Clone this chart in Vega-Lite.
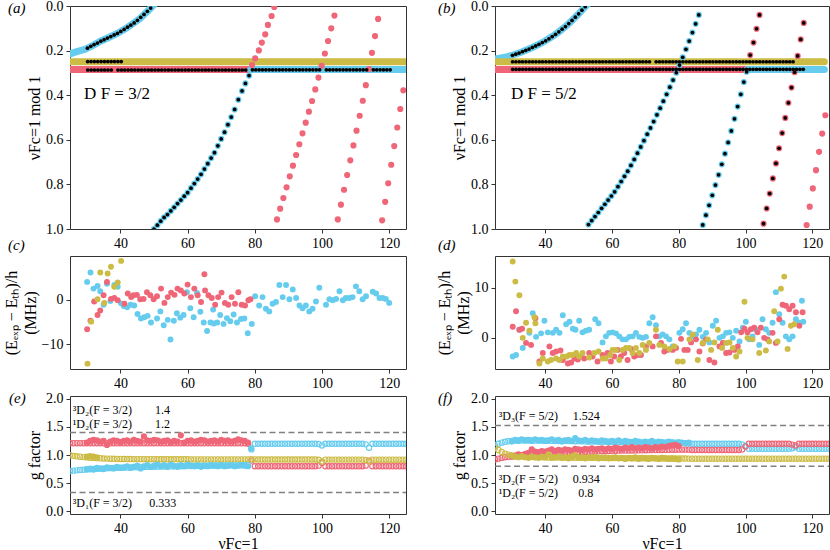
{
"$schema": "https://vega.github.io/schema/vega-lite/v6.json",
"background": "white",
"padding": {"left": 2, "top": -2, "right": 0, "bottom": 0},
"config": {
  "font": "Liberation Serif",
  "view": {"stroke": "#333", "strokeWidth": 1},
  "axis": {"domain": false, "grid": false, "tickColor": "#333", "tickSize": 4, "tickWidth": 1, "labelFont": "Liberation Serif", "labelFontSize": 14, "labelColor": "black", "labelPadding": 3, "titleFont": "Liberation Serif", "titleFontSize": 16, "titleFontWeight": "normal", "titleColor": "black", "titlePadding": 3, "labelOverlap": false, "labelFlush": false},
  "title": {"font": "Liberation Serif", "fontSize": 15, "fontStyle": "italic", "fontWeight": "normal", "anchor": "start", "frame": "group", "baseline": "top", "offset": 0, "color": "black"}
},
"datasets": {
"aBand": [
{"x":25,"y":0.215,"g":"b1","s":"B"},{"x":27,"y":0.205,"g":"b1","s":"B"},{"x":29.5,"y":0.194,"g":"b1","s":"B"},{"x":32,"y":0.175,"g":"b1","s":"B"},{"x":34.2,"y":0.157,"g":"b1","s":"B"},{"x":36.7,"y":0.14,"g":"b1","s":"B"},{"x":39.2,"y":0.122,"g":"b1","s":"B"},{"x":41.7,"y":0.1,"g":"b1","s":"B"},{"x":44.1,"y":0.075,"g":"b1","s":"B"},{"x":46,"y":0.054,"g":"b1","s":"B"},{"x":47.1,"y":0.037,"g":"b1","s":"B"},{"x":48.2,"y":0.022,"g":"b1","s":"B"},{"x":49.1,"y":0.008,"g":"b1","s":"B"},{"x":50,"y":-0.006,"g":"b1","s":"B"},
{"x":25,"y":0.25,"g":"y1","s":"Y"},{"x":125,"y":0.25,"g":"y1","s":"Y"},
{"x":25,"y":0.285,"g":"r1","s":"R"},{"x":78.8,"y":0.285,"g":"r1","s":"R"},
{"x":78.8,"y":0.285,"g":"b2","s":"B"},{"x":125,"y":0.285,"g":"b2","s":"B"}
],
"aDots": [
{"x":50.0,"y":1.0,"s":"B"},{"x":51.0,"y":0.983,"s":"B"},{"x":52.0,"y":0.965,"s":"B"},{"x":53.0,"y":0.948,"s":"B"},{"x":54.0,"y":0.935,"s":"B"},{"x":55.0,"y":0.919,"s":"B"},{"x":56.0,"y":0.903,"s":"B"},{"x":57.0,"y":0.886,"s":"B"},{"x":58.0,"y":0.87,"s":"B"},{"x":59.0,"y":0.853,"s":"B"},{"x":60.0,"y":0.837,"s":"B"},{"x":61.0,"y":0.817,"s":"B"},{"x":62.0,"y":0.796,"s":"B"},{"x":63.0,"y":0.776,"s":"B"},{"x":64.0,"y":0.755,"s":"B"},{"x":65.0,"y":0.731,"s":"B"},{"x":66.0,"y":0.707,"s":"B"},{"x":67.0,"y":0.682,"s":"B"},{"x":68.0,"y":0.658,"s":"B"},{"x":69.0,"y":0.627,"s":"B"},{"x":70.0,"y":0.596,"s":"B"},{"x":71.0,"y":0.566,"s":"B"},{"x":72.0,"y":0.532,"s":"B"},{"x":73.0,"y":0.498,"s":"B"},{"x":74.0,"y":0.464,"s":"B"},{"x":75.1,"y":0.42,"s":"B"},{"x":76.2,"y":0.381,"s":"B"},{"x":77.2,"y":0.347,"s":"B"},{"x":78.3,"y":0.312,"s":"B"},
{"x":79.2,"y":0.265,"s":"R"},{"x":80.1,"y":0.235,"s":"R"},{"x":81.2,"y":0.199,"s":"R"},{"x":82.1,"y":0.164,"s":"R"},{"x":83.1,"y":0.127,"s":"R"},{"x":83.9,"y":0.085,"s":"R"},{"x":85.0,"y":0.045,"s":"R"},{"x":85.8,"y":0.004,"s":"R"},
{"x":86.6,"y":0.957,"s":"R"},{"x":87.55,"y":0.909,"s":"R"},{"x":88.5,"y":0.861,"s":"R"},{"x":89.45,"y":0.813,"s":"R"},{"x":90.4,"y":0.764,"s":"R"},{"x":91.35,"y":0.716,"s":"R"},{"x":92.3,"y":0.668,"s":"R"},{"x":93.25,"y":0.62,"s":"R"},{"x":94.2,"y":0.571,"s":"R"},{"x":95.15,"y":0.523,"s":"R"},{"x":96.1,"y":0.474,"s":"R"},{"x":97.05,"y":0.426,"s":"R"},{"x":98.0,"y":0.374,"s":"R"},{"x":98.95,"y":0.321,"s":"R"},{"x":99.9,"y":0.268,"s":"R"},{"x":100.85,"y":0.213,"s":"R"},{"x":101.8,"y":0.157,"s":"R"},{"x":102.75,"y":0.1,"s":"R"},{"x":103.7,"y":0.043,"s":"R"},
{"x":104.7,"y":0.957,"s":"R"},{"x":105.63,"y":0.891,"s":"R"},{"x":106.56,"y":0.824,"s":"R"},{"x":107.49,"y":0.758,"s":"R"},{"x":108.42,"y":0.692,"s":"R"},{"x":109.35,"y":0.625,"s":"R"},{"x":110.28,"y":0.559,"s":"R"},{"x":111.21,"y":0.492,"s":"R"},{"x":112.14,"y":0.425,"s":"R"},{"x":113.05,"y":0.355,"s":"R"},{"x":113.96,"y":0.283,"s":"R"},{"x":114.87,"y":0.21,"s":"R"},{"x":115.78,"y":0.135,"s":"R"},{"x":116.7,"y":0.058,"s":"R"},
{"x":117.9,"y":0.961,"s":"R"},{"x":118.8,"y":0.878,"s":"R"},{"x":119.7,"y":0.795,"s":"R"},{"x":120.6,"y":0.712,"s":"R"},{"x":121.5,"y":0.628,"s":"R"},{"x":122.4,"y":0.545,"s":"R"},{"x":123.3,"y":0.462,"s":"R"},{"x":124.2,"y":0.378,"s":"R"}
],
"aExp": [
{"x":30.19,"y":0.189},{"x":31.18,"y":0.181},{"x":32.17,"y":0.173},{"x":33.17,"y":0.166},{"x":34.16,"y":0.158},{"x":35.15,"y":0.151},{"x":36.14,"y":0.144},{"x":37.14,"y":0.137},{"x":38.13,"y":0.13},{"x":39.12,"y":0.123},{"x":40.11,"y":0.114},{"x":41.11,"y":0.105},{"x":42.1,"y":0.095},{"x":43.09,"y":0.086},{"x":44.08,"y":0.076},{"x":45.06,"y":0.064},{"x":46.05,"y":0.051},{"x":47.04,"y":0.038},{"x":48.02,"y":0.024},{"x":49.01,"y":0.009},
{"x":30.25,"y":0.249},{"x":31.25,"y":0.249},{"x":32.25,"y":0.249},{"x":33.25,"y":0.249},{"x":34.25,"y":0.249},{"x":35.25,"y":0.249},{"x":36.25,"y":0.249},{"x":37.25,"y":0.249},{"x":38.25,"y":0.249},{"x":39.25,"y":0.249},{"x":40.25,"y":0.249},
{"x":30.29,"y":0.287},{"x":31.29,"y":0.287},{"x":32.29,"y":0.287},{"x":33.29,"y":0.287},{"x":34.29,"y":0.287},{"x":35.29,"y":0.287},{"x":36.29,"y":0.287},{"x":37.29,"y":0.287},{"x":39.29,"y":0.287},{"x":40.29,"y":0.287},{"x":41.29,"y":0.287},{"x":42.29,"y":0.287},{"x":43.29,"y":0.287},{"x":44.29,"y":0.287},{"x":45.29,"y":0.287},{"x":46.29,"y":0.287},{"x":47.29,"y":0.287},{"x":48.29,"y":0.287},{"x":49.29,"y":0.287},{"x":50.29,"y":0.287},{"x":51.29,"y":0.287},{"x":52.29,"y":0.287},{"x":53.29,"y":0.287},{"x":54.29,"y":0.287},{"x":55.29,"y":0.287},{"x":56.29,"y":0.287},{"x":57.29,"y":0.287},{"x":58.29,"y":0.287},{"x":59.29,"y":0.287},{"x":60.29,"y":0.287},{"x":61.29,"y":0.287},{"x":62.29,"y":0.287},{"x":63.29,"y":0.287},{"x":64.29,"y":0.287},{"x":65.29,"y":0.287},{"x":66.29,"y":0.287},{"x":67.29,"y":0.287},{"x":68.29,"y":0.287},{"x":69.29,"y":0.287},{"x":70.29,"y":0.287},{"x":71.29,"y":0.287},{"x":72.29,"y":0.287},{"x":73.29,"y":0.287},{"x":74.29,"y":0.287},{"x":75.29,"y":0.287},{"x":76.29,"y":0.287},{"x":77.29,"y":0.287},
{"x":50.0,"y":1.0},{"x":51.0,"y":0.983},{"x":52.0,"y":0.965},{"x":53.0,"y":0.948},{"x":54.0,"y":0.935},{"x":55.0,"y":0.919},{"x":56.0,"y":0.903},{"x":57.0,"y":0.886},{"x":58.0,"y":0.87},{"x":59.0,"y":0.853},{"x":60.0,"y":0.837},{"x":61.0,"y":0.817},{"x":62.0,"y":0.796},{"x":63.0,"y":0.776},{"x":64.0,"y":0.755},{"x":65.0,"y":0.731},{"x":66.0,"y":0.707},{"x":67.0,"y":0.682},{"x":68.0,"y":0.658},{"x":69.0,"y":0.627},{"x":70.0,"y":0.596},{"x":71.0,"y":0.566},{"x":72.0,"y":0.532},{"x":73.0,"y":0.498},{"x":74.0,"y":0.464},{"x":75.1,"y":0.42},{"x":76.2,"y":0.381},{"x":77.2,"y":0.347},{"x":78.3,"y":0.312},
{"x":79.29,"y":0.286},{"x":80.29,"y":0.286},{"x":81.29,"y":0.286},{"x":82.29,"y":0.286},{"x":83.29,"y":0.286},{"x":84.29,"y":0.286},{"x":85.29,"y":0.286},{"x":86.29,"y":0.286},{"x":87.29,"y":0.286},{"x":88.29,"y":0.286},{"x":89.29,"y":0.286},{"x":90.29,"y":0.286},{"x":91.29,"y":0.286},{"x":92.29,"y":0.286},{"x":93.29,"y":0.286},{"x":94.29,"y":0.286},{"x":95.29,"y":0.286},{"x":96.29,"y":0.286},{"x":97.29,"y":0.286},{"x":98.29,"y":0.286},{"x":99.29,"y":0.286},{"x":101.29,"y":0.286},{"x":102.29,"y":0.286},{"x":103.29,"y":0.286},{"x":104.29,"y":0.286},{"x":105.29,"y":0.286},{"x":106.29,"y":0.286},{"x":107.29,"y":0.286},{"x":108.29,"y":0.286},{"x":109.29,"y":0.286},{"x":110.29,"y":0.286},{"x":111.29,"y":0.286},{"x":112.29,"y":0.286},{"x":113.29,"y":0.286},{"x":115.29,"y":0.286},{"x":116.29,"y":0.286},{"x":117.29,"y":0.286},{"x":118.29,"y":0.286},{"x":119.29,"y":0.286},{"x":120.29,"y":0.286}
],
"aTxt": [{"x":29.2,"y":0.396,"t":"D F = 3/2"}],
"bBand": [
{"x":25,"y":0.238,"g":"b1","s":"B"},{"x":28,"y":0.23,"g":"b1","s":"B"},{"x":30,"y":0.222,"g":"b1","s":"B"},{"x":33,"y":0.206,"g":"b1","s":"B"},{"x":36,"y":0.187,"g":"b1","s":"B"},{"x":38,"y":0.173,"g":"b1","s":"B"},{"x":40,"y":0.157,"g":"b1","s":"B"},{"x":42,"y":0.138,"g":"b1","s":"B"},{"x":44,"y":0.117,"g":"b1","s":"B"},{"x":46,"y":0.093,"g":"b1","s":"B"},{"x":48,"y":0.066,"g":"b1","s":"B"},{"x":50,"y":0.036,"g":"b1","s":"B"},{"x":51,"y":0.02,"g":"b1","s":"B"},{"x":52.2,"y":0.0,"g":"b1","s":"B"},{"x":53,"y":-0.012,"g":"b1","s":"B"},
{"x":25,"y":0.25,"g":"y1","s":"Y"},{"x":123.6,"y":0.25,"g":"y1","s":"Y"},
{"x":25,"y":0.285,"g":"r1","s":"R"},{"x":100.6,"y":0.285,"g":"r1","s":"R"},
{"x":100.6,"y":0.285,"g":"b2","s":"B"},{"x":123.6,"y":0.285,"g":"b2","s":"B"}
],
"bDots": [
{"x":52.98,"y":0.98,"s":"B"},{"x":53.96,"y":0.962,"s":"B"},{"x":54.94,"y":0.944,"s":"B"},{"x":55.93,"y":0.926,"s":"B"},{"x":56.91,"y":0.907,"s":"B"},{"x":57.89,"y":0.889,"s":"B"},{"x":58.87,"y":0.87,"s":"B"},{"x":59.85,"y":0.852,"s":"B"},{"x":60.83,"y":0.833,"s":"B"},{"x":61.81,"y":0.81,"s":"B"},{"x":62.79,"y":0.787,"s":"B"},{"x":63.76,"y":0.764,"s":"B"},{"x":64.74,"y":0.741,"s":"B"},{"x":65.71,"y":0.715,"s":"B"},{"x":66.69,"y":0.688,"s":"B"},{"x":67.66,"y":0.66,"s":"B"},{"x":68.63,"y":0.632,"s":"B"},{"x":69.6,"y":0.604,"s":"B"},{"x":70.57,"y":0.575,"s":"B"},{"x":71.54,"y":0.547,"s":"B"},{"x":72.51,"y":0.518,"s":"B"},{"x":73.48,"y":0.488,"s":"B"},{"x":74.45,"y":0.458,"s":"B"},{"x":75.41,"y":0.427,"s":"B"},{"x":76.38,"y":0.396,"s":"B"},{"x":77.35,"y":0.364,"s":"B"},{"x":78.31,"y":0.332,"s":"B"},{"x":79.28,"y":0.299,"s":"B"},{"x":80.25,"y":0.265,"s":"B"},{"x":81.21,"y":0.23,"s":"B"},{"x":82.18,"y":0.194,"s":"B"},{"x":83.14,"y":0.157,"s":"B"},{"x":84.11,"y":0.119,"s":"B"},{"x":85.07,"y":0.08,"s":"B"},{"x":86.03,"y":0.04,"s":"B"},
{"x":87.2,"y":0.982,"s":"B"},{"x":88.15,"y":0.938,"s":"B"},{"x":89.1,"y":0.894,"s":"B"},{"x":90.05,"y":0.849,"s":"B"},{"x":91.0,"y":0.803,"s":"B"},{"x":91.95,"y":0.757,"s":"B"},{"x":92.9,"y":0.71,"s":"B"},{"x":93.85,"y":0.662,"s":"B"},{"x":94.8,"y":0.612,"s":"B"},{"x":95.75,"y":0.56,"s":"B"},{"x":96.7,"y":0.506,"s":"B"},{"x":97.65,"y":0.451,"s":"B"},{"x":98.6,"y":0.396,"s":"B"},{"x":99.5,"y":0.341,"s":"B"},{"x":100.35,"y":0.295,"s":"B"},
{"x":101.4,"y":0.22,"s":"R"},{"x":102.4,"y":0.164,"s":"R"},{"x":103.3,"y":0.102,"s":"R"},{"x":104.2,"y":0.04,"s":"R"},
{"x":105.4,"y":0.976,"s":"R"},{"x":106.33,"y":0.908,"s":"R"},{"x":107.26,"y":0.841,"s":"R"},{"x":108.19,"y":0.773,"s":"R"},{"x":109.12,"y":0.706,"s":"R"},{"x":110.05,"y":0.638,"s":"R"},{"x":110.98,"y":0.57,"s":"R"},{"x":111.91,"y":0.502,"s":"R"},{"x":112.84,"y":0.434,"s":"R"},{"x":113.77,"y":0.366,"s":"R"},{"x":114.7,"y":0.297,"s":"R"},{"x":115.62,"y":0.224,"s":"R"},{"x":116.53,"y":0.15,"s":"R"},{"x":117.44,"y":0.076,"s":"R"},
{"x":118.3,"y":0.982,"s":"R"},{"x":119.23,"y":0.9,"s":"R"},{"x":120.16,"y":0.818,"s":"R"},{"x":121.1,"y":0.736,"s":"R"},{"x":122.03,"y":0.654,"s":"R"},{"x":122.96,"y":0.572,"s":"R"},{"x":123.9,"y":0.49,"s":"R"}
],
"bExp": [
{"x":30.22,"y":0.221},{"x":31.22,"y":0.216},{"x":32.21,"y":0.211},{"x":33.2,"y":0.205},{"x":34.2,"y":0.199},{"x":35.19,"y":0.193},{"x":36.19,"y":0.186},{"x":37.18,"y":0.179},{"x":38.17,"y":0.172},{"x":39.16,"y":0.164},{"x":40.16,"y":0.156},{"x":41.15,"y":0.147},{"x":42.14,"y":0.137},{"x":43.13,"y":0.127},{"x":44.12,"y":0.116},{"x":45.1,"y":0.104},{"x":46.09,"y":0.092},{"x":47.08,"y":0.079},{"x":48.07,"y":0.065},{"x":49.05,"y":0.05},{"x":50.04,"y":0.035},{"x":51.02,"y":0.019},{"x":52.0,"y":0.003},
{"x":30.25,"y":0.25},{"x":31.25,"y":0.25},{"x":32.25,"y":0.25},{"x":33.25,"y":0.25},{"x":34.25,"y":0.25},{"x":35.25,"y":0.25},{"x":36.25,"y":0.25},{"x":37.25,"y":0.25},{"x":38.25,"y":0.25},{"x":39.25,"y":0.25},{"x":40.25,"y":0.25},{"x":41.25,"y":0.25},{"x":42.25,"y":0.25},{"x":43.25,"y":0.25},{"x":44.25,"y":0.25},{"x":45.25,"y":0.25},{"x":46.25,"y":0.25},{"x":47.25,"y":0.25},{"x":48.25,"y":0.25},{"x":49.25,"y":0.25},{"x":50.25,"y":0.25},{"x":51.25,"y":0.25},{"x":52.25,"y":0.25},{"x":53.25,"y":0.25},{"x":54.25,"y":0.25},{"x":55.25,"y":0.25},{"x":56.25,"y":0.25},{"x":57.25,"y":0.25},{"x":58.25,"y":0.25},{"x":59.25,"y":0.25},{"x":60.25,"y":0.25},{"x":61.25,"y":0.25},{"x":62.25,"y":0.25},{"x":63.25,"y":0.25},{"x":64.25,"y":0.25},{"x":65.25,"y":0.25},{"x":66.25,"y":0.25},{"x":67.25,"y":0.25},{"x":68.25,"y":0.25},{"x":69.25,"y":0.25},{"x":70.25,"y":0.25},{"x":71.25,"y":0.25},{"x":73.25,"y":0.25},{"x":74.25,"y":0.25},{"x":75.25,"y":0.25},{"x":76.25,"y":0.25},{"x":77.25,"y":0.25},{"x":78.25,"y":0.25},{"x":79.25,"y":0.25},{"x":80.25,"y":0.25},{"x":81.25,"y":0.25},{"x":82.25,"y":0.25},{"x":83.25,"y":0.25},{"x":84.25,"y":0.25},{"x":85.25,"y":0.25},{"x":86.25,"y":0.25},{"x":87.25,"y":0.25},{"x":88.25,"y":0.25},{"x":89.25,"y":0.25},{"x":90.25,"y":0.25},{"x":91.25,"y":0.25},{"x":92.25,"y":0.25},{"x":93.25,"y":0.25},{"x":94.25,"y":0.25},{"x":95.25,"y":0.25},{"x":96.25,"y":0.25},{"x":97.25,"y":0.25},{"x":98.25,"y":0.25},{"x":99.25,"y":0.25},{"x":100.25,"y":0.25},{"x":101.25,"y":0.25},{"x":102.25,"y":0.25},{"x":103.25,"y":0.25},{"x":104.25,"y":0.25},{"x":105.25,"y":0.25},{"x":106.25,"y":0.25},{"x":107.25,"y":0.25},{"x":108.25,"y":0.25},{"x":109.25,"y":0.25},{"x":110.25,"y":0.25},{"x":111.25,"y":0.25},{"x":112.25,"y":0.25},{"x":113.25,"y":0.25},{"x":114.25,"y":0.25},
{"x":30.28,"y":0.284},{"x":31.28,"y":0.284},{"x":32.28,"y":0.284},{"x":33.28,"y":0.284},{"x":34.28,"y":0.284},{"x":35.28,"y":0.284},{"x":36.28,"y":0.284},{"x":37.28,"y":0.284},{"x":38.28,"y":0.284},{"x":39.28,"y":0.284},{"x":40.28,"y":0.284},{"x":41.28,"y":0.284},{"x":42.28,"y":0.284},{"x":43.28,"y":0.284},{"x":44.28,"y":0.284},{"x":45.28,"y":0.284},{"x":46.28,"y":0.284},{"x":47.28,"y":0.284},{"x":48.28,"y":0.284},{"x":49.28,"y":0.284},{"x":50.28,"y":0.284},{"x":51.28,"y":0.284},{"x":52.28,"y":0.284},{"x":53.28,"y":0.284},{"x":54.28,"y":0.284},{"x":55.28,"y":0.284},{"x":56.28,"y":0.284},{"x":57.28,"y":0.284},{"x":58.28,"y":0.284},{"x":59.28,"y":0.284},{"x":60.28,"y":0.284},{"x":61.28,"y":0.284},{"x":62.28,"y":0.284},{"x":63.28,"y":0.284},{"x":64.28,"y":0.284},{"x":65.28,"y":0.284},{"x":66.28,"y":0.284},{"x":67.28,"y":0.284},{"x":68.28,"y":0.284},{"x":69.28,"y":0.284},{"x":70.28,"y":0.284},{"x":71.28,"y":0.284},{"x":72.28,"y":0.284},{"x":73.28,"y":0.284},{"x":74.28,"y":0.284},{"x":75.28,"y":0.284},{"x":76.28,"y":0.284},{"x":77.28,"y":0.284},{"x":78.28,"y":0.284},{"x":79.28,"y":0.284},{"x":80.28,"y":0.284},{"x":81.28,"y":0.284},{"x":82.28,"y":0.284},{"x":83.28,"y":0.284},{"x":84.28,"y":0.284},{"x":85.28,"y":0.284},{"x":86.28,"y":0.284},{"x":87.28,"y":0.284},{"x":88.28,"y":0.284},{"x":89.28,"y":0.284},{"x":90.28,"y":0.284},{"x":91.28,"y":0.284},{"x":92.28,"y":0.284},{"x":93.28,"y":0.284},{"x":94.28,"y":0.284},{"x":95.28,"y":0.284},{"x":96.28,"y":0.284},{"x":97.28,"y":0.284},{"x":98.28,"y":0.284},{"x":99.28,"y":0.284},{"x":100.28,"y":0.284},{"x":101.28,"y":0.284},{"x":102.28,"y":0.284},{"x":103.28,"y":0.284},{"x":104.28,"y":0.284},{"x":105.28,"y":0.284},{"x":106.28,"y":0.284},{"x":107.28,"y":0.284},{"x":108.28,"y":0.284},{"x":109.28,"y":0.284},{"x":110.28,"y":0.284},{"x":111.28,"y":0.284},{"x":112.28,"y":0.284},{"x":113.28,"y":0.284},{"x":114.28,"y":0.284},{"x":115.28,"y":0.284},{"x":116.28,"y":0.284},{"x":117.28,"y":0.284},
{"x":52.98,"y":0.98},{"x":53.96,"y":0.962},{"x":54.94,"y":0.944},{"x":55.93,"y":0.926},{"x":56.91,"y":0.907},{"x":57.89,"y":0.889},{"x":58.87,"y":0.87},{"x":59.85,"y":0.852},{"x":60.83,"y":0.833},{"x":61.81,"y":0.81},{"x":62.79,"y":0.787},{"x":63.76,"y":0.764},{"x":64.74,"y":0.741},{"x":65.71,"y":0.715},{"x":66.69,"y":0.688},{"x":67.66,"y":0.66},{"x":68.63,"y":0.632},{"x":69.6,"y":0.604},{"x":70.57,"y":0.575},{"x":71.54,"y":0.547},{"x":72.51,"y":0.518},{"x":73.48,"y":0.488},{"x":74.45,"y":0.458},{"x":75.41,"y":0.427},{"x":76.38,"y":0.396},{"x":77.35,"y":0.364},{"x":78.31,"y":0.332},{"x":79.28,"y":0.299},{"x":80.25,"y":0.265},{"x":81.21,"y":0.23},{"x":82.18,"y":0.194},{"x":83.14,"y":0.157},{"x":84.11,"y":0.119},{"x":85.07,"y":0.08},{"x":86.03,"y":0.04},
{"x":87.2,"y":0.982},{"x":88.15,"y":0.938},{"x":89.1,"y":0.894},{"x":90.05,"y":0.849},{"x":91.0,"y":0.803},{"x":91.95,"y":0.757},{"x":92.9,"y":0.71},{"x":93.85,"y":0.662},{"x":94.8,"y":0.612},{"x":95.75,"y":0.56},{"x":96.7,"y":0.506},{"x":97.65,"y":0.451},{"x":98.6,"y":0.396},{"x":99.5,"y":0.341},{"x":100.35,"y":0.295},
{"x":101.4,"y":0.22},{"x":102.4,"y":0.164},{"x":103.3,"y":0.102},{"x":104.2,"y":0.04},
{"x":105.4,"y":0.976},{"x":106.33,"y":0.908},{"x":107.26,"y":0.841},{"x":108.19,"y":0.773},{"x":109.12,"y":0.706},{"x":110.05,"y":0.638},{"x":110.98,"y":0.57},{"x":111.91,"y":0.502},{"x":112.84,"y":0.434},{"x":113.77,"y":0.366},{"x":114.7,"y":0.297},{"x":115.62,"y":0.224},{"x":116.53,"y":0.15},{"x":117.44,"y":0.076}
],
"bTxt": [{"x":29.8,"y":0.396,"t":"D F = 5/2"}],
"cPts": [
{"x":30.1,"y":4.0,"s":"B"},{"x":31.1,"y":6.1,"s":"B"},{"x":32.0,"y":2.5,"s":"B"},{"x":33.2,"y":3.1,"s":"B"},{"x":34.0,"y":1.9,"s":"B"},{"x":35.0,"y":-1.1,"s":"B"},{"x":36.0,"y":3.6,"s":"B"},{"x":37.0,"y":-0.3,"s":"B"},{"x":38.2,"y":3.3,"s":"B"},{"x":39.2,"y":2.9,"s":"B"},{"x":40.2,"y":-0.8,"s":"B"},{"x":41.0,"y":-1.4,"s":"B"},{"x":42.0,"y":-1.7,"s":"B"},{"x":43.0,"y":-1.1,"s":"B"},{"x":44.1,"y":-1.3,"s":"B"},{"x":45.1,"y":-3.2,"s":"B"},{"x":46.1,"y":-4.2,"s":"B"},{"x":47.1,"y":-3.9,"s":"B"},{"x":48.1,"y":-3.6,"s":"B"},{"x":49.1,"y":-5.1,"s":"B"},{"x":50.9,"y":-4.2,"s":"B"},{"x":51.9,"y":-2.6,"s":"B"},{"x":52.9,"y":-5.7,"s":"B"},{"x":54.1,"y":-4.5,"s":"B"},{"x":54.9,"y":-8.9,"s":"B"},{"x":55.9,"y":-4.7,"s":"B"},{"x":56.8,"y":-3.0,"s":"B"},{"x":57.8,"y":-4.0,"s":"B"},{"x":58.8,"y":-3.4,"s":"B"},{"x":59.8,"y":1.7,"s":"B"},{"x":60.8,"y":-1.9,"s":"B"},{"x":61.8,"y":-3.9,"s":"B"},{"x":62.8,"y":1.5,"s":"B"},{"x":63.8,"y":-2.7,"s":"B"},{"x":64.8,"y":-5.1,"s":"B"},{"x":65.8,"y":-7.0,"s":"B"},{"x":66.8,"y":-5.1,"s":"B"},{"x":67.6,"y":-2.2,"s":"B"},{"x":67.8,"y":-5.3,"s":"B"},{"x":68.8,"y":-5.1,"s":"B"},{"x":69.7,"y":-3.4,"s":"B"},{"x":70.7,"y":-5.4,"s":"B"},{"x":71.7,"y":-4.1,"s":"B"},{"x":72.7,"y":-4.8,"s":"B"},{"x":73.7,"y":-3.3,"s":"B"},{"x":74.7,"y":-5.1,"s":"B"},{"x":75.9,"y":-4.3,"s":"B"},{"x":76.9,"y":-4.2,"s":"B"},{"x":77.9,"y":-7.5,"s":"B"},{"x":79.1,"y":-5.4,"s":"B"},{"x":80.1,"y":0.8,"s":"B"},{"x":81.3,"y":-1.3,"s":"B"},{"x":82.3,"y":0.6,"s":"B"},{"x":83.3,"y":-2.0,"s":"B"},{"x":84.3,"y":-2.6,"s":"B"},{"x":85.3,"y":-0.9,"s":"B"},{"x":86.3,"y":-0.5,"s":"B"},{"x":87.3,"y":3.3,"s":"B"},{"x":88.3,"y":0.6,"s":"B"},{"x":89.3,"y":3.3,"s":"B"},{"x":90.3,"y":0.1,"s":"B"},{"x":91.3,"y":2.3,"s":"B"},{"x":92.3,"y":0.4,"s":"B"},{"x":93.3,"y":-1.3,"s":"B"},{"x":94.2,"y":-1.9,"s":"B"},{"x":95.2,"y":-1.3,"s":"B"},{"x":96.2,"y":-2.6,"s":"B"},{"x":97.2,"y":-2.0,"s":"B"},{"x":98.2,"y":-0.4,"s":"B"},{"x":99.2,"y":2.7,"s":"B"},{"x":101.2,"y":-1.1,"s":"B"},{"x":102.2,"y":0.1,"s":"B"},{"x":103.2,"y":-0.1,"s":"B"},{"x":104.2,"y":0.2,"s":"B"},{"x":105.2,"y":1.9,"s":"B"},{"x":106.2,"y":-0.1,"s":"B"},{"x":107.1,"y":0.4,"s":"B"},{"x":108.1,"y":0.4,"s":"B"},{"x":109.1,"y":0.6,"s":"B"},{"x":110.1,"y":3.0,"s":"B"},{"x":111.1,"y":1.9,"s":"B"},{"x":112.1,"y":0.1,"s":"B"},{"x":113.1,"y":0.8,"s":"B"},{"x":115.1,"y":1.8,"s":"B"},{"x":116.1,"y":1.4,"s":"B"},{"x":117.1,"y":0.4,"s":"B"},{"x":118.1,"y":0.4,"s":"B"},{"x":119.0,"y":0.2,"s":"B"},{"x":120.0,"y":-0.7,"s":"B"},
{"x":30.1,"y":-6.6,"s":"R"},{"x":31.1,"y":-4.7,"s":"R"},{"x":32.2,"y":-0.4,"s":"R"},{"x":33.2,"y":-3.4,"s":"R"},{"x":34.0,"y":-2.4,"s":"R"},{"x":35.0,"y":1.0,"s":"R"},{"x":36.0,"y":4.0,"s":"R"},{"x":37.2,"y":0.2,"s":"R"},{"x":38.2,"y":0.4,"s":"R"},{"x":39.2,"y":-0.1,"s":"R"},{"x":41.2,"y":-0.9,"s":"R"},{"x":42.2,"y":1.4,"s":"R"},{"x":43.2,"y":0.6,"s":"R"},{"x":43.9,"y":1.0,"s":"R"},{"x":44.9,"y":1.1,"s":"R"},{"x":45.9,"y":0.1,"s":"R"},{"x":46.9,"y":0.2,"s":"R"},{"x":47.9,"y":1.7,"s":"R"},{"x":48.9,"y":1.0,"s":"R"},{"x":49.9,"y":0.1,"s":"R"},{"x":50.9,"y":0.8,"s":"R"},{"x":52.1,"y":2.5,"s":"R"},{"x":53.1,"y":-0.7,"s":"R"},{"x":54.1,"y":0.6,"s":"R"},{"x":55.1,"y":1.6,"s":"R"},{"x":56.1,"y":1.1,"s":"R"},{"x":57.0,"y":2.5,"s":"R"},{"x":58.0,"y":2.1,"s":"R"},{"x":59.0,"y":1.4,"s":"R"},{"x":60.0,"y":3.4,"s":"R"},{"x":61.0,"y":0.6,"s":"R"},{"x":62.0,"y":2.5,"s":"R"},{"x":63.0,"y":1.0,"s":"R"},{"x":64.0,"y":-0.5,"s":"R"},{"x":65.0,"y":5.7,"s":"R"},{"x":65.2,"y":2.1,"s":"R"},{"x":66.2,"y":1.0,"s":"R"},{"x":67.2,"y":0.4,"s":"R"},{"x":68.2,"y":-1.1,"s":"R"},{"x":69.1,"y":0.6,"s":"R"},{"x":70.1,"y":1.6,"s":"R"},{"x":71.1,"y":-0.7,"s":"R"},{"x":72.1,"y":-1.1,"s":"R"},{"x":73.1,"y":0.6,"s":"R"},{"x":74.1,"y":-0.9,"s":"R"},{"x":75.1,"y":1.7,"s":"R"},{"x":76.1,"y":-1.1,"s":"R"},{"x":77.1,"y":-1.3,"s":"R"},{"x":78.1,"y":-0.1,"s":"R"},{"x":78.7,"y":0.1,"s":"R"},
{"x":30.2,"y":-14.3,"s":"Y"},{"x":31.3,"y":-4.9,"s":"Y"},{"x":33.2,"y":0.1,"s":"Y"},{"x":34.0,"y":6.1,"s":"Y"},{"x":35.2,"y":-0.7,"s":"Y"},{"x":36.2,"y":5.9,"s":"Y"},{"x":37.2,"y":7.4,"s":"Y"},{"x":38.2,"y":2.9,"s":"Y"},{"x":39.2,"y":3.9,"s":"Y"},{"x":40.2,"y":8.7,"s":"Y"}
],
"dPts": [
{"x":30.3,"y":-3.7,"s":"B"},{"x":31.3,"y":-3.4,"s":"B"},{"x":32.3,"y":1.6,"s":"B"},{"x":33.3,"y":-2.0,"s":"B"},{"x":35.3,"y":1.0,"s":"B"},{"x":36.3,"y":4.9,"s":"B"},{"x":37.3,"y":0.2,"s":"B"},{"x":38.8,"y":0.9,"s":"B"},{"x":39.8,"y":3.4,"s":"B"},{"x":40.8,"y":1.1,"s":"B"},{"x":42.3,"y":1.0,"s":"B"},{"x":43.3,"y":1.6,"s":"B"},{"x":44.3,"y":1.0,"s":"B"},{"x":45.3,"y":4.5,"s":"B"},{"x":46.3,"y":2.7,"s":"B"},{"x":47.3,"y":3.2,"s":"B"},{"x":48.3,"y":1.8,"s":"B"},{"x":49.1,"y":1.6,"s":"B"},{"x":50.2,"y":3.4,"s":"B"},{"x":51.2,"y":1.1,"s":"B"},{"x":52.2,"y":1.4,"s":"B"},{"x":53.2,"y":1.6,"s":"B"},{"x":55.0,"y":3.7,"s":"B"},{"x":56.0,"y":2.9,"s":"B"},{"x":57.2,"y":-0.9,"s":"B"},{"x":58.2,"y":0.3,"s":"B"},{"x":59.2,"y":1.0,"s":"B"},{"x":60.2,"y":1.1,"s":"B"},{"x":61.2,"y":0.9,"s":"B"},{"x":62.2,"y":0.3,"s":"B"},{"x":63.2,"y":-0.3,"s":"B"},{"x":64.2,"y":-0.3,"s":"B"},{"x":65.2,"y":0.2,"s":"B"},{"x":66.2,"y":0.3,"s":"B"},{"x":67.2,"y":1.0,"s":"B"},{"x":68.2,"y":0.2,"s":"B"},{"x":69.2,"y":0.0,"s":"B"},{"x":70.2,"y":0.2,"s":"B"},{"x":71.2,"y":2.9,"s":"B"},{"x":72.2,"y":4.1,"s":"B"},{"x":73.2,"y":2.5,"s":"B"},{"x":74.2,"y":0.3,"s":"B"},{"x":75.2,"y":0.7,"s":"B"},{"x":76.2,"y":0.3,"s":"B"},{"x":77.2,"y":-0.3,"s":"B"},{"x":78.2,"y":-1.7,"s":"B"},{"x":80.2,"y":1.0,"s":"B"},{"x":81.2,"y":1.7,"s":"B"},{"x":82.2,"y":2.9,"s":"B"},{"x":83.2,"y":1.0,"s":"B"},{"x":84.2,"y":0.3,"s":"B"},{"x":85.2,"y":0.7,"s":"B"},{"x":86.2,"y":1.6,"s":"B"},{"x":87.2,"y":0.2,"s":"B"},{"x":88.2,"y":1.0,"s":"B"},{"x":89.2,"y":-0.9,"s":"B"},{"x":90.2,"y":2.4,"s":"B"},{"x":91.2,"y":3.4,"s":"B"},{"x":92.2,"y":0.0,"s":"B"},{"x":93.2,"y":0.3,"s":"B"},{"x":94.2,"y":1.0,"s":"B"},{"x":95.2,"y":1.1,"s":"B"},{"x":96.2,"y":0.0,"s":"B"},{"x":97.2,"y":1.4,"s":"B"},{"x":98.2,"y":-0.7,"s":"B"},{"x":99.2,"y":2.0,"s":"B"},{"x":100.1,"y":3.2,"s":"B"},{"x":101.1,"y":-0.3,"s":"B"},{"x":102.1,"y":0.3,"s":"B"},{"x":103.1,"y":1.6,"s":"B"},{"x":104.1,"y":-1.4,"s":"B"},{"x":105.1,"y":3.7,"s":"B"},{"x":106.1,"y":1.7,"s":"B"},{"x":107.1,"y":1.0,"s":"B"},{"x":108.1,"y":3.0,"s":"B"},{"x":109.1,"y":9.1,"s":"B"},{"x":110.1,"y":4.7,"s":"B"},{"x":111.1,"y":3.0,"s":"B"},{"x":112.1,"y":0.3,"s":"B"},{"x":113.1,"y":-0.3,"s":"B"},{"x":114.1,"y":0.3,"s":"B"},{"x":115.1,"y":3.7,"s":"B"},{"x":116.1,"y":3.0,"s":"B"},{"x":116.9,"y":7.4,"s":"B"},{"x":117.3,"y":3.2,"s":"B"},
{"x":30.3,"y":2.2,"s":"R"},{"x":31.3,"y":5.3,"s":"R"},{"x":32.3,"y":1.6,"s":"R"},{"x":33.1,"y":1.8,"s":"R"},{"x":34.3,"y":-1.0,"s":"R"},{"x":35.8,"y":-1.4,"s":"R"},{"x":37.1,"y":3.9,"s":"R"},{"x":38.3,"y":-4.7,"s":"R"},{"x":39.3,"y":-3.0,"s":"R"},{"x":41.3,"y":-1.7,"s":"R"},{"x":42.3,"y":-3.0,"s":"R"},{"x":43.3,"y":-2.7,"s":"R"},{"x":44.6,"y":-2.5,"s":"R"},{"x":45.3,"y":-4.4,"s":"R"},{"x":46.8,"y":-5.1,"s":"R"},{"x":47.8,"y":-4.9,"s":"R"},{"x":48.8,"y":-4.1,"s":"R"},{"x":49.8,"y":-4.3,"s":"R"},{"x":50.7,"y":-3.7,"s":"R"},{"x":51.7,"y":-4.1,"s":"R"},{"x":53.2,"y":-3.0,"s":"R"},{"x":54.2,"y":-3.7,"s":"R"},{"x":55.7,"y":-4.7,"s":"R"},{"x":57.2,"y":-3.4,"s":"R"},{"x":58.7,"y":-3.0,"s":"R"},{"x":59.7,"y":-4.7,"s":"R"},{"x":60.7,"y":-3.7,"s":"R"},{"x":61.7,"y":-2.4,"s":"R"},{"x":62.7,"y":-3.7,"s":"R"},{"x":63.7,"y":-3.0,"s":"R"},{"x":64.7,"y":-4.4,"s":"R"},{"x":65.7,"y":-2.2,"s":"R"},{"x":66.7,"y":-3.7,"s":"R"},{"x":67.7,"y":-3.4,"s":"R"},{"x":68.7,"y":-3.4,"s":"R"},{"x":70.2,"y":-1.7,"s":"R"},{"x":72.2,"y":-1.7,"s":"R"},{"x":73.2,"y":0.3,"s":"R"},{"x":74.7,"y":-1.0,"s":"R"},{"x":75.7,"y":-2.7,"s":"R"},{"x":76.7,"y":-2.4,"s":"R"},{"x":78.2,"y":-2.4,"s":"R"},{"x":79.2,"y":-2.0,"s":"R"},{"x":80.7,"y":-0.2,"s":"R"},{"x":81.7,"y":-2.4,"s":"R"},{"x":82.7,"y":-2.4,"s":"R"},{"x":83.7,"y":-0.9,"s":"R"},{"x":85.2,"y":-0.3,"s":"R"},{"x":86.2,"y":-2.7,"s":"R"},{"x":87.2,"y":-1.1,"s":"R"},{"x":88.2,"y":-0.3,"s":"R"},{"x":89.2,"y":-4.4,"s":"R"},{"x":90.7,"y":-4.9,"s":"R"},{"x":92.2,"y":-1.7,"s":"R"},{"x":93.2,"y":-1.0,"s":"R"},{"x":94.2,"y":-3.0,"s":"R"},{"x":95.2,"y":-2.9,"s":"R"},{"x":96.7,"y":-2.4,"s":"R"},{"x":97.7,"y":-1.7,"s":"R"},{"x":98.7,"y":1.1,"s":"R"},{"x":99.7,"y":1.8,"s":"R"},{"x":100.6,"y":1.1,"s":"R"},{"x":101.6,"y":1.7,"s":"R"},{"x":102.6,"y":2.0,"s":"R"},{"x":103.6,"y":1.1,"s":"R"},{"x":104.6,"y":2.0,"s":"R"},{"x":105.6,"y":0.0,"s":"R"},{"x":106.6,"y":-0.3,"s":"R"},{"x":108.1,"y":1.0,"s":"R"},{"x":109.1,"y":-1.0,"s":"R"},{"x":110.1,"y":3.7,"s":"R"},{"x":111.1,"y":6.6,"s":"R"},{"x":112.1,"y":6.4,"s":"R"},{"x":113.1,"y":5.7,"s":"R"},{"x":114.1,"y":6.4,"s":"R"},{"x":115.1,"y":5.1,"s":"R"},{"x":116.1,"y":2.4,"s":"R"},{"x":117.1,"y":5.1,"s":"R"},
{"x":30.3,"y":15.2,"s":"Y"},{"x":31.1,"y":11.2,"s":"Y"},{"x":32.3,"y":8.5,"s":"Y"},{"x":33.3,"y":0.0,"s":"Y"},{"x":34.3,"y":3.0,"s":"Y"},{"x":35.3,"y":1.4,"s":"Y"},{"x":36.8,"y":4.1,"s":"Y"},{"x":37.1,"y":2.9,"s":"Y"},{"x":38.3,"y":-5.1,"s":"Y"},{"x":39.3,"y":-4.1,"s":"Y"},{"x":40.8,"y":-4.7,"s":"Y"},{"x":41.8,"y":-4.4,"s":"Y"},{"x":43.3,"y":-4.1,"s":"Y"},{"x":44.3,"y":-4.4,"s":"Y"},{"x":45.3,"y":-3.7,"s":"Y"},{"x":46.5,"y":-3.7,"s":"Y"},{"x":47.3,"y":-3.4,"s":"Y"},{"x":48.3,"y":-3.4,"s":"Y"},{"x":49.3,"y":-3.0,"s":"Y"},{"x":50.2,"y":-3.7,"s":"Y"},{"x":51.2,"y":-3.0,"s":"Y"},{"x":53.2,"y":-3.9,"s":"Y"},{"x":54.7,"y":-3.0,"s":"Y"},{"x":56.0,"y":-2.7,"s":"Y"},{"x":57.2,"y":-4.1,"s":"Y"},{"x":58.2,"y":-4.1,"s":"Y"},{"x":59.5,"y":-3.4,"s":"Y"},{"x":60.2,"y":-2.4,"s":"Y"},{"x":61.2,"y":-2.4,"s":"Y"},{"x":62.2,"y":-4.4,"s":"Y"},{"x":63.2,"y":-2.4,"s":"Y"},{"x":64.2,"y":-2.0,"s":"Y"},{"x":65.2,"y":-2.0,"s":"Y"},{"x":66.2,"y":-3.0,"s":"Y"},{"x":67.2,"y":-2.0,"s":"Y"},{"x":68.2,"y":-3.0,"s":"Y"},{"x":69.2,"y":-1.4,"s":"Y"},{"x":70.2,"y":-2.4,"s":"Y"},{"x":71.2,"y":-1.0,"s":"Y"},{"x":73.2,"y":1.6,"s":"Y"},{"x":74.2,"y":-1.4,"s":"Y"},{"x":75.7,"y":-1.7,"s":"Y"},{"x":77.2,"y":-2.2,"s":"Y"},{"x":78.7,"y":-1.7,"s":"Y"},{"x":79.7,"y":-4.7,"s":"Y"},{"x":81.2,"y":-4.7,"s":"Y"},{"x":83.2,"y":-0.3,"s":"Y"},{"x":84.2,"y":0.7,"s":"Y"},{"x":85.7,"y":-4.4,"s":"Y"},{"x":87.2,"y":-1.0,"s":"Y"},{"x":88.7,"y":-0.3,"s":"Y"},{"x":89.7,"y":-2.4,"s":"Y"},{"x":90.7,"y":-0.9,"s":"Y"},{"x":91.7,"y":1.6,"s":"Y"},{"x":93.0,"y":-2.0,"s":"Y"},{"x":94.2,"y":-1.0,"s":"Y"},{"x":95.2,"y":-0.9,"s":"Y"},{"x":96.2,"y":-2.0,"s":"Y"},{"x":97.2,"y":-3.7,"s":"Y"},{"x":98.2,"y":-2.7,"s":"Y"},{"x":99.7,"y":7.2,"s":"Y"},{"x":100.6,"y":0.0,"s":"Y"},{"x":102.1,"y":-0.3,"s":"Y"},{"x":104.1,"y":-3.0,"s":"Y"},{"x":106.1,"y":-2.5,"s":"Y"},{"x":107.1,"y":-0.7,"s":"Y"},{"x":108.6,"y":5.3,"s":"Y"},{"x":109.6,"y":-0.7,"s":"Y"},{"x":110.6,"y":9.8,"s":"Y"},{"x":111.6,"y":12.2,"s":"Y"},{"x":112.6,"y":-2.2,"s":"Y"},{"x":113.6,"y":2.4,"s":"Y"},{"x":114.6,"y":2.7,"s":"Y"}
],
"eLn": [{"x":25,"y":1.4,"g":"a"},{"x":125,"y":1.4,"g":"a"},{"x":25,"y":0.333,"g":"b"},{"x":125,"y":0.333,"g":"b"}],
"eTx": [{"x":25.8,"y":1.795,"t":"³D₂(F = 3/2)"},{"x":50.3,"y":1.795,"t":"1.4"},{"x":25.8,"y":1.546,"t":"¹D₂(F = 3/2)"},{"x":50.3,"y":1.546,"t":"1.2"},{"x":25.8,"y":0.151,"t":"³D₁(F = 3/2)"},{"x":48.6,"y":0.151,"t":"0.333"}],
"eTh": [
{"x":25,"y":1.21,"s":"R"},{"x":26,"y":1.21,"s":"R"},{"x":27,"y":1.21,"s":"R"},{"x":28,"y":1.21,"s":"R"},{"x":29,"y":1.21,"s":"R"},{"x":30,"y":1.21,"s":"R"},{"x":31,"y":1.21,"s":"R"},{"x":32,"y":1.21,"s":"R"},{"x":33,"y":1.21,"s":"R"},{"x":34,"y":1.21,"s":"R"},{"x":35,"y":1.21,"s":"R"},{"x":36,"y":1.21,"s":"R"},{"x":37,"y":1.21,"s":"R"},{"x":38,"y":1.21,"s":"R"},{"x":39,"y":1.21,"s":"R"},{"x":40,"y":1.21,"s":"R"},{"x":41,"y":1.21,"s":"R"},{"x":42,"y":1.21,"s":"R"},{"x":43,"y":1.21,"s":"R"},{"x":44,"y":1.21,"s":"R"},{"x":45,"y":1.21,"s":"R"},{"x":46,"y":1.21,"s":"R"},{"x":47,"y":1.21,"s":"R"},{"x":48,"y":1.21,"s":"R"},{"x":49,"y":1.21,"s":"R"},{"x":50,"y":1.21,"s":"R"},{"x":51,"y":1.21,"s":"R"},{"x":52,"y":1.21,"s":"R"},{"x":53,"y":1.21,"s":"R"},{"x":54,"y":1.21,"s":"R"},{"x":55,"y":1.21,"s":"R"},{"x":56,"y":1.21,"s":"R"},{"x":57,"y":1.21,"s":"R"},{"x":58,"y":1.21,"s":"R"},{"x":59,"y":1.21,"s":"R"},{"x":60,"y":1.21,"s":"R"},{"x":61,"y":1.21,"s":"R"},{"x":62,"y":1.21,"s":"R"},{"x":63,"y":1.21,"s":"R"},{"x":64,"y":1.21,"s":"R"},{"x":65,"y":1.21,"s":"R"},{"x":66,"y":1.21,"s":"R"},{"x":67,"y":1.21,"s":"R"},{"x":68,"y":1.21,"s":"R"},{"x":69,"y":1.21,"s":"R"},{"x":70,"y":1.21,"s":"R"},{"x":71,"y":1.21,"s":"R"},{"x":72,"y":1.21,"s":"R"},{"x":73,"y":1.21,"s":"R"},{"x":74,"y":1.21,"s":"R"},{"x":75,"y":1.21,"s":"R"},{"x":76,"y":1.21,"s":"R"},{"x":77,"y":1.21,"s":"R"},{"x":78,"y":1.2,"s":"R"},{"x":79,"y":0.9,"s":"R"},
{"x":80,"y":0.8,"s":"R"},{"x":81,"y":0.8,"s":"R"},{"x":82,"y":0.8,"s":"R"},{"x":83,"y":0.8,"s":"R"},{"x":84,"y":0.8,"s":"R"},{"x":85,"y":0.8,"s":"R"},{"x":86,"y":0.8,"s":"R"},{"x":87,"y":0.8,"s":"R"},{"x":88,"y":0.8,"s":"R"},{"x":89,"y":0.8,"s":"R"},{"x":90,"y":0.8,"s":"R"},{"x":91,"y":0.8,"s":"R"},{"x":92,"y":0.8,"s":"R"},{"x":93,"y":0.8,"s":"R"},{"x":94,"y":0.8,"s":"R"},{"x":95,"y":0.8,"s":"R"},{"x":96,"y":0.8,"s":"R"},{"x":97,"y":0.8,"s":"R"},{"x":98,"y":0.8,"s":"R"},{"x":99,"y":0.81,"s":"R"},{"x":100,"y":0.86,"s":"R"},{"x":101,"y":0.8,"s":"R"},{"x":102,"y":0.8,"s":"R"},{"x":103,"y":0.8,"s":"R"},{"x":104,"y":0.8,"s":"R"},{"x":105,"y":0.8,"s":"R"},{"x":106,"y":0.8,"s":"R"},{"x":107,"y":0.8,"s":"R"},{"x":108,"y":0.8,"s":"R"},{"x":109,"y":0.8,"s":"R"},{"x":110,"y":0.8,"s":"R"},{"x":111,"y":0.8,"s":"R"},{"x":112,"y":0.8,"s":"R"},{"x":113,"y":0.81,"s":"R"},{"x":114,"y":0.9,"s":"R"},{"x":115,"y":0.8,"s":"R"},{"x":116,"y":0.8,"s":"R"},{"x":117,"y":0.8,"s":"R"},{"x":118,"y":0.8,"s":"R"},{"x":119,"y":0.8,"s":"R"},{"x":120,"y":0.8,"s":"R"},{"x":121,"y":0.8,"s":"R"},{"x":122,"y":0.8,"s":"R"},{"x":123,"y":0.8,"s":"R"},{"x":124,"y":0.8,"s":"R"},{"x":125,"y":0.8,"s":"R"},
{"x":25,"y":0.995,"s":"Y"},{"x":26,"y":0.985,"s":"Y"},{"x":27,"y":0.977,"s":"Y"},{"x":28,"y":0.97,"s":"Y"},{"x":29,"y":0.963,"s":"Y"},{"x":30,"y":0.957,"s":"Y"},{"x":31,"y":0.952,"s":"Y"},{"x":32,"y":0.948,"s":"Y"},{"x":33,"y":0.944,"s":"Y"},{"x":34,"y":0.941,"s":"Y"},{"x":35,"y":0.938,"s":"Y"},{"x":36,"y":0.936,"s":"Y"},{"x":37,"y":0.934,"s":"Y"},{"x":38,"y":0.932,"s":"Y"},{"x":39,"y":0.931,"s":"Y"},{"x":40,"y":0.93,"s":"Y"},{"x":41,"y":0.929,"s":"Y"},{"x":42,"y":0.928,"s":"Y"},{"x":43,"y":0.928,"s":"Y"},{"x":44,"y":0.927,"s":"Y"},{"x":45,"y":0.927,"s":"Y"},{"x":46,"y":0.926,"s":"Y"},{"x":47,"y":0.926,"s":"Y"},{"x":48,"y":0.925,"s":"Y"},{"x":49,"y":0.925,"s":"Y"},{"x":50,"y":0.925,"s":"Y"},{"x":51,"y":0.924,"s":"Y"},{"x":52,"y":0.924,"s":"Y"},{"x":53,"y":0.924,"s":"Y"},{"x":54,"y":0.924,"s":"Y"},{"x":55,"y":0.924,"s":"Y"},{"x":56,"y":0.924,"s":"Y"},{"x":57,"y":0.924,"s":"Y"},{"x":58,"y":0.924,"s":"Y"},{"x":59,"y":0.924,"s":"Y"},{"x":60,"y":0.924,"s":"Y"},{"x":61,"y":0.922,"s":"Y"},{"x":62,"y":0.922,"s":"Y"},{"x":63,"y":0.922,"s":"Y"},{"x":64,"y":0.922,"s":"Y"},{"x":65,"y":0.922,"s":"Y"},{"x":66,"y":0.922,"s":"Y"},{"x":67,"y":0.922,"s":"Y"},{"x":68,"y":0.922,"s":"Y"},{"x":69,"y":0.922,"s":"Y"},{"x":70,"y":0.922,"s":"Y"},{"x":71,"y":0.922,"s":"Y"},{"x":72,"y":0.922,"s":"Y"},{"x":73,"y":0.922,"s":"Y"},{"x":74,"y":0.922,"s":"Y"},{"x":75,"y":0.922,"s":"Y"},{"x":76,"y":0.922,"s":"Y"},{"x":77,"y":0.922,"s":"Y"},{"x":78,"y":0.922,"s":"Y"},{"x":79,"y":0.925,"s":"Y"},{"x":80,"y":0.922,"s":"Y"},{"x":81,"y":0.92,"s":"Y"},{"x":82,"y":0.92,"s":"Y"},{"x":83,"y":0.92,"s":"Y"},{"x":84,"y":0.92,"s":"Y"},{"x":85,"y":0.92,"s":"Y"},{"x":86,"y":0.92,"s":"Y"},{"x":87,"y":0.92,"s":"Y"},{"x":88,"y":0.92,"s":"Y"},{"x":89,"y":0.92,"s":"Y"},{"x":90,"y":0.92,"s":"Y"},{"x":91,"y":0.92,"s":"Y"},{"x":92,"y":0.92,"s":"Y"},{"x":93,"y":0.92,"s":"Y"},{"x":94,"y":0.92,"s":"Y"},{"x":95,"y":0.92,"s":"Y"},{"x":96,"y":0.92,"s":"Y"},{"x":97,"y":0.92,"s":"Y"},{"x":98,"y":0.92,"s":"Y"},{"x":99,"y":0.915,"s":"Y"},{"x":100,"y":0.885,"s":"Y"},{"x":101,"y":0.918,"s":"Y"},{"x":102,"y":0.918,"s":"Y"},{"x":103,"y":0.918,"s":"Y"},{"x":104,"y":0.918,"s":"Y"},{"x":105,"y":0.918,"s":"Y"},{"x":106,"y":0.918,"s":"Y"},{"x":107,"y":0.918,"s":"Y"},{"x":108,"y":0.918,"s":"Y"},{"x":109,"y":0.918,"s":"Y"},{"x":110,"y":0.918,"s":"Y"},{"x":111,"y":0.918,"s":"Y"},{"x":112,"y":0.918,"s":"Y"},{"x":113,"y":0.914,"s":"Y"},{"x":114,"y":0.885,"s":"Y"},{"x":115,"y":0.916,"s":"Y"},{"x":116,"y":0.916,"s":"Y"},{"x":117,"y":0.916,"s":"Y"},{"x":118,"y":0.916,"s":"Y"},{"x":119,"y":0.916,"s":"Y"},{"x":120,"y":0.916,"s":"Y"},{"x":121,"y":0.916,"s":"Y"},{"x":122,"y":0.916,"s":"Y"},{"x":123,"y":0.916,"s":"Y"},{"x":124,"y":0.916,"s":"Y"},{"x":125,"y":0.916,"s":"Y"},
{"x":25,"y":0.715,"s":"B"},{"x":26,"y":0.721,"s":"B"},{"x":27,"y":0.727,"s":"B"},{"x":28,"y":0.732,"s":"B"},{"x":29,"y":0.737,"s":"B"},{"x":30,"y":0.742,"s":"B"},{"x":31,"y":0.746,"s":"B"},{"x":32,"y":0.75,"s":"B"},{"x":33,"y":0.754,"s":"B"},{"x":34,"y":0.757,"s":"B"},{"x":35,"y":0.76,"s":"B"},{"x":36,"y":0.763,"s":"B"},{"x":37,"y":0.766,"s":"B"},{"x":38,"y":0.768,"s":"B"},{"x":39,"y":0.771,"s":"B"},{"x":40,"y":0.773,"s":"B"},{"x":41,"y":0.775,"s":"B"},{"x":42,"y":0.777,"s":"B"},{"x":43,"y":0.779,"s":"B"},{"x":44,"y":0.781,"s":"B"},{"x":45,"y":0.783,"s":"B"},{"x":46,"y":0.785,"s":"B"},{"x":47,"y":0.786,"s":"B"},{"x":48,"y":0.788,"s":"B"},{"x":49,"y":0.789,"s":"B"},{"x":50,"y":0.791,"s":"B"},{"x":51,"y":0.792,"s":"B"},{"x":52,"y":0.794,"s":"B"},{"x":53,"y":0.795,"s":"B"},{"x":54,"y":0.796,"s":"B"},{"x":55,"y":0.797,"s":"B"},{"x":56,"y":0.799,"s":"B"},{"x":57,"y":0.8,"s":"B"},{"x":58,"y":0.801,"s":"B"},{"x":59,"y":0.802,"s":"B"},{"x":60,"y":0.803,"s":"B"},{"x":61,"y":0.804,"s":"B"},{"x":62,"y":0.805,"s":"B"},{"x":63,"y":0.806,"s":"B"},{"x":64,"y":0.807,"s":"B"},{"x":65,"y":0.808,"s":"B"},{"x":66,"y":0.809,"s":"B"},{"x":67,"y":0.81,"s":"B"},{"x":68,"y":0.811,"s":"B"},{"x":69,"y":0.812,"s":"B"},{"x":70,"y":0.812,"s":"B"},{"x":71,"y":0.813,"s":"B"},{"x":72,"y":0.814,"s":"B"},{"x":73,"y":0.815,"s":"B"},{"x":74,"y":0.815,"s":"B"},{"x":75,"y":0.816,"s":"B"},{"x":76,"y":0.817,"s":"B"},{"x":77,"y":0.818,"s":"B"},{"x":78,"y":0.82,"s":"B"},{"x":79,"y":1.1,"s":"B"},
{"x":80,"y":1.2,"s":"B"},{"x":81,"y":1.2,"s":"B"},{"x":82,"y":1.2,"s":"B"},{"x":83,"y":1.2,"s":"B"},{"x":84,"y":1.2,"s":"B"},{"x":85,"y":1.2,"s":"B"},{"x":86,"y":1.2,"s":"B"},{"x":87,"y":1.2,"s":"B"},{"x":88,"y":1.2,"s":"B"},{"x":89,"y":1.2,"s":"B"},{"x":90,"y":1.2,"s":"B"},{"x":91,"y":1.2,"s":"B"},{"x":92,"y":1.2,"s":"B"},{"x":93,"y":1.2,"s":"B"},{"x":94,"y":1.2,"s":"B"},{"x":95,"y":1.2,"s":"B"},{"x":96,"y":1.2,"s":"B"},{"x":97,"y":1.2,"s":"B"},{"x":98,"y":1.2,"s":"B"},{"x":99,"y":1.195,"s":"B"},{"x":100,"y":1.17,"s":"B"},{"x":101,"y":1.2,"s":"B"},{"x":102,"y":1.2,"s":"B"},{"x":103,"y":1.2,"s":"B"},{"x":104,"y":1.2,"s":"B"},{"x":105,"y":1.2,"s":"B"},{"x":106,"y":1.2,"s":"B"},{"x":107,"y":1.2,"s":"B"},{"x":108,"y":1.2,"s":"B"},{"x":109,"y":1.2,"s":"B"},{"x":110,"y":1.2,"s":"B"},{"x":111,"y":1.2,"s":"B"},{"x":112,"y":1.2,"s":"B"},{"x":113,"y":1.19,"s":"B"},{"x":114,"y":1.13,"s":"B"},{"x":115,"y":1.2,"s":"B"},{"x":116,"y":1.2,"s":"B"},{"x":117,"y":1.2,"s":"B"},{"x":118,"y":1.2,"s":"B"},{"x":119,"y":1.2,"s":"B"},{"x":120,"y":1.2,"s":"B"},{"x":121,"y":1.2,"s":"B"},{"x":122,"y":1.2,"s":"B"},{"x":123,"y":1.2,"s":"B"},{"x":124,"y":1.2,"s":"B"},{"x":125,"y":1.2,"s":"B"}
],
"eEx": [
{"x":30,"y":1.22,"s":"R"},{"x":31,"y":1.25,"s":"R"},{"x":32,"y":1.27,"s":"R"},{"x":33,"y":1.26,"s":"R"},{"x":34,"y":1.24,"s":"R"},{"x":35,"y":1.25,"s":"R"},{"x":36,"y":1.18,"s":"R"},{"x":37,"y":1.24,"s":"R"},{"x":38,"y":1.26,"s":"R"},{"x":39,"y":1.25,"s":"R"},{"x":40,"y":1.23,"s":"R"},{"x":41,"y":1.25,"s":"R"},{"x":42,"y":1.26,"s":"R"},{"x":43,"y":1.24,"s":"R"},{"x":44,"y":1.27,"s":"R"},{"x":45,"y":1.25,"s":"R"},{"x":46,"y":1.24,"s":"R"},{"x":47,"y":1.33,"s":"R"},{"x":48,"y":1.26,"s":"R"},{"x":49,"y":1.25,"s":"R"},{"x":50,"y":1.27,"s":"R"},{"x":51,"y":1.26,"s":"R"},{"x":52,"y":1.24,"s":"R"},{"x":53,"y":1.25,"s":"R"},{"x":54,"y":1.26,"s":"R"},{"x":55,"y":1.23,"s":"R"},{"x":56,"y":1.25,"s":"R"},{"x":57,"y":1.24,"s":"R"},{"x":58,"y":1.35,"s":"R"},{"x":59,"y":1.22,"s":"R"},{"x":60,"y":1.25,"s":"R"},{"x":61,"y":1.26,"s":"R"},{"x":62,"y":1.24,"s":"R"},{"x":63,"y":1.25,"s":"R"},{"x":64,"y":1.27,"s":"R"},{"x":65,"y":1.26,"s":"R"},{"x":66,"y":1.24,"s":"R"},{"x":67,"y":1.25,"s":"R"},{"x":68,"y":1.26,"s":"R"},{"x":69,"y":1.24,"s":"R"},{"x":70,"y":1.27,"s":"R"},{"x":71,"y":1.25,"s":"R"},{"x":72,"y":1.26,"s":"R"},{"x":73,"y":1.24,"s":"R"},{"x":74,"y":1.25,"s":"R"},{"x":75,"y":1.28,"s":"R"},{"x":76,"y":1.26,"s":"R"},{"x":77,"y":1.25,"s":"R"},{"x":78,"y":1.22,"s":"R"},
{"x":30,"y":0.97,"s":"Y"},{"x":31,"y":0.98,"s":"Y"},{"x":32,"y":0.97,"s":"Y"},{"x":33,"y":0.96,"s":"Y"},
{"x":30,"y":0.75,"s":"B"},{"x":31,"y":0.76,"s":"B"},{"x":32,"y":0.74,"s":"B"},{"x":33,"y":0.77,"s":"B"},{"x":34,"y":0.76,"s":"B"},{"x":35,"y":0.75,"s":"B"},{"x":36,"y":0.78,"s":"B"},{"x":37,"y":0.77,"s":"B"},{"x":38,"y":0.76,"s":"B"},{"x":39,"y":0.79,"s":"B"},{"x":40,"y":0.77,"s":"B"},{"x":41,"y":0.78,"s":"B"},{"x":42,"y":0.8,"s":"B"},{"x":43,"y":0.77,"s":"B"},{"x":44,"y":0.79,"s":"B"},{"x":45,"y":0.81,"s":"B"},{"x":46,"y":0.76,"s":"B"},{"x":47,"y":0.8,"s":"B"},{"x":48,"y":0.82,"s":"B"},{"x":49,"y":0.79,"s":"B"},{"x":50,"y":0.81,"s":"B"},{"x":51,"y":0.83,"s":"B"},{"x":52,"y":0.8,"s":"B"},{"x":53,"y":0.82,"s":"B"},{"x":54,"y":0.79,"s":"B"},{"x":55,"y":0.83,"s":"B"},{"x":56,"y":0.8,"s":"B"},{"x":57,"y":0.79,"s":"B"},{"x":58,"y":0.82,"s":"B"},{"x":59,"y":0.8,"s":"B"},{"x":60,"y":0.83,"s":"B"},{"x":61,"y":0.81,"s":"B"},{"x":62,"y":0.8,"s":"B"},{"x":63,"y":0.82,"s":"B"},{"x":64,"y":0.79,"s":"B"},{"x":65,"y":0.81,"s":"B"},{"x":66,"y":0.8,"s":"B"},{"x":67,"y":0.82,"s":"B"},{"x":68,"y":0.81,"s":"B"},{"x":69,"y":0.8,"s":"B"},{"x":70,"y":0.82,"s":"B"},{"x":71,"y":0.8,"s":"B"},{"x":72,"y":0.81,"s":"B"},{"x":73,"y":0.82,"s":"B"},{"x":74,"y":0.8,"s":"B"},{"x":75,"y":0.81,"s":"B"},{"x":76,"y":0.82,"s":"B"},{"x":77,"y":0.81,"s":"B"},{"x":78,"y":0.8,"s":"B"},{"x":78.9,"y":1.12,"s":"B"}
],
"fLn": [{"x":25,"y":1.524,"g":"a"},{"x":125,"y":1.524,"g":"a"},{"x":25,"y":0.8,"g":"b"},{"x":125,"y":0.8,"g":"b"}],
"fTx": [{"x":26.1,"y":1.694,"t":"³D₃(F = 5/2)"},{"x":48.3,"y":1.694,"t":"1.524"},{"x":26.1,"y":0.567,"t":"³D₂(F = 5/2)"},{"x":48.3,"y":0.567,"t":"0.934"},{"x":26.1,"y":0.33,"t":"¹D₂(F = 5/2)"},{"x":49.9,"y":0.33,"t":"0.8"}],
"fTh": [
{"x":25,"y":1.17,"s":"B"},{"x":26,"y":1.2,"s":"B"},{"x":27,"y":1.22,"s":"B"},{"x":28,"y":1.235,"s":"B"},{"x":29,"y":1.245,"s":"B"},{"x":30,"y":1.25,"s":"B"},{"x":31,"y":1.255,"s":"B"},{"x":32,"y":1.258,"s":"B"},{"x":33,"y":1.26,"s":"B"},{"x":34,"y":1.26,"s":"B"},{"x":35,"y":1.259,"s":"B"},{"x":36,"y":1.258,"s":"B"},{"x":37,"y":1.257,"s":"B"},{"x":38,"y":1.256,"s":"B"},{"x":39,"y":1.255,"s":"B"},{"x":40,"y":1.254,"s":"B"},{"x":41,"y":1.253,"s":"B"},{"x":42,"y":1.252,"s":"B"},{"x":43,"y":1.251,"s":"B"},{"x":44,"y":1.25,"s":"B"},{"x":45,"y":1.249,"s":"B"},{"x":46,"y":1.248,"s":"B"},{"x":47,"y":1.247,"s":"B"},{"x":48,"y":1.246,"s":"B"},{"x":49,"y":1.245,"s":"B"},{"x":50,"y":1.244,"s":"B"},{"x":51,"y":1.243,"s":"B"},{"x":52,"y":1.242,"s":"B"},{"x":53,"y":1.241,"s":"B"},{"x":54,"y":1.24,"s":"B"},{"x":55,"y":1.239,"s":"B"},{"x":56,"y":1.238,"s":"B"},{"x":57,"y":1.237,"s":"B"},{"x":58,"y":1.236,"s":"B"},{"x":59,"y":1.235,"s":"B"},{"x":60,"y":1.234,"s":"B"},{"x":61,"y":1.233,"s":"B"},{"x":62,"y":1.232,"s":"B"},{"x":63,"y":1.231,"s":"B"},{"x":64,"y":1.23,"s":"B"},{"x":65,"y":1.229,"s":"B"},{"x":66,"y":1.228,"s":"B"},{"x":67,"y":1.227,"s":"B"},{"x":68,"y":1.226,"s":"B"},{"x":69,"y":1.225,"s":"B"},{"x":70,"y":1.224,"s":"B"},{"x":71,"y":1.223,"s":"B"},{"x":72,"y":1.222,"s":"B"},{"x":73,"y":1.221,"s":"B"},{"x":74,"y":1.22,"s":"B"},{"x":75,"y":1.219,"s":"B"},{"x":76,"y":1.218,"s":"B"},{"x":77,"y":1.217,"s":"B"},{"x":78,"y":1.216,"s":"B"},{"x":79,"y":1.215,"s":"B"},{"x":80,"y":1.214,"s":"B"},{"x":81,"y":1.212,"s":"B"},{"x":82,"y":1.21,"s":"B"},{"x":83,"y":1.205,"s":"B"},{"x":84,"y":1.2,"s":"B"},{"x":85,"y":1.2,"s":"B"},{"x":86,"y":1.2,"s":"B"},{"x":87,"y":1.2,"s":"B"},{"x":88,"y":1.2,"s":"B"},{"x":89,"y":1.2,"s":"B"},{"x":90,"y":1.2,"s":"B"},{"x":91,"y":1.2,"s":"B"},{"x":92,"y":1.2,"s":"B"},{"x":93,"y":1.2,"s":"B"},{"x":94,"y":1.2,"s":"B"},{"x":95,"y":1.2,"s":"B"},{"x":96,"y":1.2,"s":"B"},{"x":97,"y":1.2,"s":"B"},{"x":98,"y":1.2,"s":"B"},{"x":99,"y":1.19,"s":"B"},{"x":100,"y":1.16,"s":"B"},{"x":101,"y":1.11,"s":"B"},{"x":102,"y":1.11,"s":"B"},{"x":103,"y":1.11,"s":"B"},{"x":104,"y":1.11,"s":"B"},{"x":105,"y":1.11,"s":"B"},{"x":106,"y":1.11,"s":"B"},{"x":107,"y":1.11,"s":"B"},{"x":108,"y":1.11,"s":"B"},{"x":109,"y":1.11,"s":"B"},{"x":110,"y":1.11,"s":"B"},{"x":111,"y":1.11,"s":"B"},{"x":112,"y":1.11,"s":"B"},{"x":113,"y":1.11,"s":"B"},{"x":114,"y":1.12,"s":"B"},{"x":115,"y":1.14,"s":"B"},{"x":116,"y":1.11,"s":"B"},{"x":117,"y":1.11,"s":"B"},{"x":118,"y":1.11,"s":"B"},{"x":119,"y":1.11,"s":"B"},{"x":120,"y":1.11,"s":"B"},{"x":121,"y":1.11,"s":"B"},{"x":122,"y":1.11,"s":"B"},{"x":123,"y":1.11,"s":"B"},{"x":124,"y":1.11,"s":"B"},{"x":125,"y":1.11,"s":"B"},
{"x":25,"y":0.92,"s":"R"},{"x":26,"y":0.935,"s":"R"},{"x":27,"y":0.948,"s":"R"},{"x":28,"y":0.96,"s":"R"},{"x":29,"y":0.97,"s":"R"},{"x":30,"y":0.978,"s":"R"},{"x":31,"y":0.985,"s":"R"},{"x":32,"y":0.992,"s":"R"},{"x":33,"y":0.998,"s":"R"},{"x":34,"y":1.003,"s":"R"},{"x":35,"y":1.008,"s":"R"},{"x":36,"y":1.013,"s":"R"},{"x":37,"y":1.017,"s":"R"},{"x":38,"y":1.021,"s":"R"},{"x":39,"y":1.025,"s":"R"},{"x":40,"y":1.029,"s":"R"},{"x":41,"y":1.032,"s":"R"},{"x":42,"y":1.035,"s":"R"},{"x":43,"y":1.038,"s":"R"},{"x":44,"y":1.041,"s":"R"},{"x":45,"y":1.044,"s":"R"},{"x":46,"y":1.046,"s":"R"},{"x":47,"y":1.048,"s":"R"},{"x":48,"y":1.05,"s":"R"},{"x":49,"y":1.052,"s":"R"},{"x":50,"y":1.054,"s":"R"},{"x":51,"y":1.056,"s":"R"},{"x":52,"y":1.058,"s":"R"},{"x":53,"y":1.06,"s":"R"},{"x":54,"y":1.062,"s":"R"},{"x":55,"y":1.064,"s":"R"},{"x":56,"y":1.066,"s":"R"},{"x":57,"y":1.068,"s":"R"},{"x":58,"y":1.07,"s":"R"},{"x":59,"y":1.072,"s":"R"},{"x":60,"y":1.074,"s":"R"},{"x":61,"y":1.076,"s":"R"},{"x":62,"y":1.077,"s":"R"},{"x":63,"y":1.078,"s":"R"},{"x":64,"y":1.079,"s":"R"},{"x":65,"y":1.08,"s":"R"},{"x":66,"y":1.081,"s":"R"},{"x":67,"y":1.082,"s":"R"},{"x":68,"y":1.083,"s":"R"},{"x":69,"y":1.084,"s":"R"},{"x":70,"y":1.085,"s":"R"},{"x":71,"y":1.086,"s":"R"},{"x":72,"y":1.087,"s":"R"},{"x":73,"y":1.088,"s":"R"},{"x":74,"y":1.089,"s":"R"},{"x":75,"y":1.09,"s":"R"},{"x":76,"y":1.091,"s":"R"},{"x":77,"y":1.092,"s":"R"},{"x":78,"y":1.093,"s":"R"},{"x":79,"y":1.094,"s":"R"},{"x":80,"y":1.095,"s":"R"},{"x":81,"y":1.095,"s":"R"},{"x":82,"y":1.095,"s":"R"},{"x":83,"y":1.095,"s":"R"},{"x":84,"y":1.09,"s":"R"},{"x":85,"y":1.09,"s":"R"},{"x":86,"y":1.09,"s":"R"},{"x":87,"y":1.09,"s":"R"},{"x":88,"y":1.09,"s":"R"},{"x":89,"y":1.09,"s":"R"},{"x":90,"y":1.09,"s":"R"},{"x":91,"y":1.09,"s":"R"},{"x":92,"y":1.09,"s":"R"},{"x":93,"y":1.09,"s":"R"},{"x":94,"y":1.09,"s":"R"},{"x":95,"y":1.09,"s":"R"},{"x":96,"y":1.09,"s":"R"},{"x":97,"y":1.09,"s":"R"},{"x":98,"y":1.09,"s":"R"},{"x":99,"y":1.1,"s":"R"},{"x":100,"y":1.15,"s":"R"},{"x":101,"y":1.2,"s":"R"},{"x":102,"y":1.2,"s":"R"},{"x":103,"y":1.2,"s":"R"},{"x":104,"y":1.2,"s":"R"},{"x":105,"y":1.2,"s":"R"},{"x":106,"y":1.2,"s":"R"},{"x":107,"y":1.2,"s":"R"},{"x":108,"y":1.2,"s":"R"},{"x":109,"y":1.2,"s":"R"},{"x":110,"y":1.2,"s":"R"},{"x":111,"y":1.2,"s":"R"},{"x":112,"y":1.2,"s":"R"},{"x":113,"y":1.2,"s":"R"},{"x":114,"y":1.185,"s":"R"},{"x":115,"y":1.17,"s":"R"},{"x":116,"y":1.2,"s":"R"},{"x":117,"y":1.2,"s":"R"},{"x":118,"y":1.2,"s":"R"},{"x":119,"y":1.2,"s":"R"},{"x":120,"y":1.2,"s":"R"},{"x":121,"y":1.2,"s":"R"},{"x":122,"y":1.2,"s":"R"},{"x":123,"y":1.2,"s":"R"},{"x":124,"y":1.2,"s":"R"},{"x":125,"y":1.2,"s":"R"},
{"x":25,"y":1.13,"s":"Y"},{"x":26,"y":1.09,"s":"Y"},{"x":27,"y":1.055,"s":"Y"},{"x":28,"y":1.025,"s":"Y"},{"x":29,"y":1.005,"s":"Y"},{"x":30,"y":0.99,"s":"Y"},{"x":31,"y":0.982,"s":"Y"},{"x":32,"y":0.976,"s":"Y"},{"x":33,"y":0.972,"s":"Y"},{"x":34,"y":0.968,"s":"Y"},{"x":35,"y":0.965,"s":"Y"},{"x":36,"y":0.963,"s":"Y"},{"x":37,"y":0.961,"s":"Y"},{"x":38,"y":0.959,"s":"Y"},{"x":39,"y":0.958,"s":"Y"},{"x":40,"y":0.957,"s":"Y"},{"x":41,"y":0.956,"s":"Y"},{"x":42,"y":0.955,"s":"Y"},{"x":43,"y":0.955,"s":"Y"},{"x":44,"y":0.954,"s":"Y"},{"x":45,"y":0.954,"s":"Y"},{"x":46,"y":0.953,"s":"Y"},{"x":47,"y":0.953,"s":"Y"},{"x":48,"y":0.952,"s":"Y"},{"x":49,"y":0.952,"s":"Y"},{"x":50,"y":0.951,"s":"Y"},{"x":51,"y":0.951,"s":"Y"},{"x":52,"y":0.95,"s":"Y"},{"x":53,"y":0.95,"s":"Y"},{"x":54,"y":0.949,"s":"Y"},{"x":55,"y":0.949,"s":"Y"},{"x":56,"y":0.948,"s":"Y"},{"x":57,"y":0.948,"s":"Y"},{"x":58,"y":0.947,"s":"Y"},{"x":59,"y":0.947,"s":"Y"},{"x":60,"y":0.946,"s":"Y"},{"x":61,"y":0.946,"s":"Y"},{"x":62,"y":0.945,"s":"Y"},{"x":63,"y":0.945,"s":"Y"},{"x":64,"y":0.944,"s":"Y"},{"x":65,"y":0.944,"s":"Y"},{"x":66,"y":0.943,"s":"Y"},{"x":67,"y":0.943,"s":"Y"},{"x":68,"y":0.942,"s":"Y"},{"x":69,"y":0.942,"s":"Y"},{"x":70,"y":0.941,"s":"Y"},{"x":71,"y":0.941,"s":"Y"},{"x":72,"y":0.94,"s":"Y"},{"x":73,"y":0.94,"s":"Y"},{"x":74,"y":0.94,"s":"Y"},{"x":75,"y":0.939,"s":"Y"},{"x":76,"y":0.939,"s":"Y"},{"x":77,"y":0.939,"s":"Y"},{"x":78,"y":0.938,"s":"Y"},{"x":79,"y":0.938,"s":"Y"},{"x":80,"y":0.938,"s":"Y"},{"x":81,"y":0.937,"s":"Y"},{"x":82,"y":0.937,"s":"Y"},{"x":83,"y":0.936,"s":"Y"},{"x":84,"y":0.935,"s":"Y"},{"x":85,"y":0.935,"s":"Y"},{"x":86,"y":0.935,"s":"Y"},{"x":87,"y":0.935,"s":"Y"},{"x":88,"y":0.935,"s":"Y"},{"x":89,"y":0.935,"s":"Y"},{"x":90,"y":0.935,"s":"Y"},{"x":91,"y":0.935,"s":"Y"},{"x":92,"y":0.935,"s":"Y"},{"x":93,"y":0.935,"s":"Y"},{"x":94,"y":0.935,"s":"Y"},{"x":95,"y":0.935,"s":"Y"},{"x":96,"y":0.935,"s":"Y"},{"x":97,"y":0.935,"s":"Y"},{"x":98,"y":0.935,"s":"Y"},{"x":99,"y":0.935,"s":"Y"},{"x":100,"y":0.935,"s":"Y"},{"x":101,"y":0.935,"s":"Y"},{"x":102,"y":0.935,"s":"Y"},{"x":103,"y":0.935,"s":"Y"},{"x":104,"y":0.935,"s":"Y"},{"x":105,"y":0.935,"s":"Y"},{"x":106,"y":0.935,"s":"Y"},{"x":107,"y":0.935,"s":"Y"},{"x":108,"y":0.935,"s":"Y"},{"x":109,"y":0.935,"s":"Y"},{"x":110,"y":0.935,"s":"Y"},{"x":111,"y":0.935,"s":"Y"},{"x":112,"y":0.935,"s":"Y"},{"x":113,"y":0.935,"s":"Y"},{"x":114,"y":0.935,"s":"Y"},{"x":115,"y":0.935,"s":"Y"},{"x":116,"y":0.935,"s":"Y"},{"x":117,"y":0.935,"s":"Y"},{"x":118,"y":0.935,"s":"Y"},{"x":119,"y":0.935,"s":"Y"},{"x":120,"y":0.935,"s":"Y"},{"x":121,"y":0.935,"s":"Y"},{"x":122,"y":0.935,"s":"Y"},{"x":123,"y":0.935,"s":"Y"},{"x":124,"y":0.935,"s":"Y"},{"x":125,"y":0.935,"s":"Y"}
],
"fEx": [
{"x":30,"y":1.24,"s":"B"},{"x":31,"y":1.27,"s":"B"},{"x":32,"y":1.25,"s":"B"},{"x":33,"y":1.28,"s":"B"},{"x":34,"y":1.26,"s":"B"},{"x":35,"y":1.27,"s":"B"},{"x":36,"y":1.25,"s":"B"},{"x":37,"y":1.28,"s":"B"},{"x":38,"y":1.26,"s":"B"},{"x":39,"y":1.27,"s":"B"},{"x":40,"y":1.25,"s":"B"},{"x":41,"y":1.26,"s":"B"},{"x":42,"y":1.28,"s":"B"},{"x":43,"y":1.25,"s":"B"},{"x":44,"y":1.27,"s":"B"},{"x":45,"y":1.24,"s":"B"},{"x":46,"y":1.26,"s":"B"},{"x":47,"y":1.27,"s":"B"},{"x":48,"y":1.25,"s":"B"},{"x":49,"y":1.3,"s":"B"},{"x":50,"y":1.26,"s":"B"},{"x":51,"y":1.25,"s":"B"},{"x":52,"y":1.27,"s":"B"},{"x":53,"y":1.24,"s":"B"},{"x":54,"y":1.26,"s":"B"},{"x":55,"y":1.25,"s":"B"},{"x":56,"y":1.24,"s":"B"},{"x":57,"y":1.26,"s":"B"},{"x":58,"y":1.25,"s":"B"},{"x":59,"y":1.23,"s":"B"},{"x":60,"y":1.25,"s":"B"},{"x":61,"y":1.24,"s":"B"},{"x":62,"y":1.26,"s":"B"},{"x":63,"y":1.23,"s":"B"},{"x":64,"y":1.25,"s":"B"},{"x":65,"y":1.24,"s":"B"},{"x":66,"y":1.23,"s":"B"},{"x":67,"y":1.25,"s":"B"},{"x":68,"y":1.24,"s":"B"},{"x":69,"y":1.22,"s":"B"},{"x":70,"y":1.24,"s":"B"},{"x":71,"y":1.23,"s":"B"},{"x":72,"y":1.25,"s":"B"},{"x":73,"y":1.22,"s":"B"},{"x":74,"y":1.24,"s":"B"},{"x":75,"y":1.23,"s":"B"},{"x":76,"y":1.22,"s":"B"},{"x":77,"y":1.24,"s":"B"},{"x":78,"y":1.23,"s":"B"},{"x":79,"y":1.22,"s":"B"},{"x":80,"y":1.23,"s":"B"},{"x":81,"y":1.22,"s":"B"},{"x":82,"y":1.21,"s":"B"},{"x":83,"y":1.22,"s":"B"},
{"x":30,"y":0.97,"s":"R"},{"x":31,"y":0.99,"s":"R"},{"x":32,"y":1.01,"s":"R"},{"x":33,"y":1.0,"s":"R"},{"x":34,"y":1.02,"s":"R"},{"x":35,"y":1.04,"s":"R"},{"x":36,"y":1.1,"s":"R"},{"x":37,"y":1.06,"s":"R"},{"x":38,"y":1.05,"s":"R"},{"x":39,"y":1.07,"s":"R"},{"x":40,"y":1.06,"s":"R"},{"x":41,"y":1.08,"s":"R"},{"x":42,"y":1.1,"s":"R"},{"x":43,"y":1.07,"s":"R"},{"x":44,"y":1.09,"s":"R"},{"x":45,"y":1.08,"s":"R"},{"x":46,"y":1.1,"s":"R"},{"x":47,"y":1.09,"s":"R"},{"x":48,"y":1.08,"s":"R"},{"x":49,"y":1.11,"s":"R"},{"x":50,"y":1.1,"s":"R"},{"x":51,"y":1.09,"s":"R"},{"x":52,"y":1.11,"s":"R"},{"x":53,"y":1.1,"s":"R"},{"x":54,"y":1.12,"s":"R"},{"x":55,"y":1.1,"s":"R"},{"x":56,"y":1.11,"s":"R"},{"x":57,"y":1.12,"s":"R"},{"x":58,"y":1.1,"s":"R"},{"x":59,"y":1.12,"s":"R"},{"x":60,"y":1.11,"s":"R"},{"x":61,"y":1.13,"s":"R"},{"x":62,"y":1.12,"s":"R"},{"x":63,"y":1.11,"s":"R"},{"x":64,"y":1.13,"s":"R"},{"x":65,"y":1.12,"s":"R"},{"x":66,"y":1.14,"s":"R"},{"x":67,"y":1.12,"s":"R"},{"x":68,"y":1.13,"s":"R"},{"x":69,"y":1.12,"s":"R"},{"x":70,"y":1.14,"s":"R"},{"x":71,"y":1.13,"s":"R"},{"x":72,"y":1.12,"s":"R"},{"x":73,"y":1.14,"s":"R"},{"x":74,"y":1.13,"s":"R"},{"x":75,"y":1.15,"s":"R"},{"x":76,"y":1.14,"s":"R"},{"x":77,"y":1.16,"s":"R"},{"x":78,"y":1.17,"s":"R"},{"x":79,"y":1.18,"s":"R"},{"x":80,"y":1.16,"s":"R"},
{"x":30,"y":0.99,"s":"Y"},{"x":31,"y":0.97,"s":"Y"},{"x":32,"y":0.96,"s":"Y"},{"x":33,"y":0.98,"s":"Y"},{"x":34,"y":0.96,"s":"Y"},{"x":35,"y":0.95,"s":"Y"},{"x":36,"y":0.97,"s":"Y"},{"x":37,"y":0.96,"s":"Y"},{"x":38,"y":0.95,"s":"Y"},{"x":39,"y":0.97,"s":"Y"},{"x":40,"y":0.96,"s":"Y"},{"x":41,"y":1.01,"s":"Y"},{"x":42,"y":0.95,"s":"Y"},{"x":43,"y":0.96,"s":"Y"},{"x":44,"y":0.97,"s":"Y"},{"x":45,"y":0.95,"s":"Y"},{"x":46,"y":0.96,"s":"Y"},{"x":47,"y":0.94,"s":"Y"},{"x":48,"y":0.97,"s":"Y"},{"x":49,"y":1.0,"s":"Y"},{"x":50,"y":0.95,"s":"Y"},{"x":51,"y":0.96,"s":"Y"},{"x":52,"y":0.94,"s":"Y"},{"x":53,"y":0.96,"s":"Y"},{"x":54,"y":0.95,"s":"Y"},{"x":55,"y":0.97,"s":"Y"},{"x":56,"y":0.94,"s":"Y"},{"x":57,"y":0.95,"s":"Y"},{"x":58,"y":0.96,"s":"Y"},{"x":59,"y":0.94,"s":"Y"},{"x":60,"y":0.95,"s":"Y"},{"x":61,"y":0.96,"s":"Y"},{"x":62,"y":0.94,"s":"Y"},{"x":63,"y":0.95,"s":"Y"},{"x":64,"y":0.93,"s":"Y"},{"x":65,"y":0.95,"s":"Y"},{"x":66,"y":0.94,"s":"Y"},{"x":67,"y":0.96,"s":"Y"},{"x":68,"y":0.93,"s":"Y"},{"x":69,"y":0.95,"s":"Y"},{"x":70,"y":0.94,"s":"Y"},{"x":71,"y":0.93,"s":"Y"},{"x":72,"y":0.95,"s":"Y"},{"x":73,"y":0.94,"s":"Y"},{"x":74,"y":0.93,"s":"Y"},{"x":75,"y":0.95,"s":"Y"},{"x":76,"y":0.94,"s":"Y"},{"x":77,"y":0.93,"s":"Y"},{"x":78,"y":0.94,"s":"Y"},{"x":79,"y":0.93,"s":"Y"},{"x":80,"y":0.92,"s":"Y"}
]
},
"columns": 2,
"align": "each",
"bounds": "flush",
"spacing": {"row": 27, "column": 89},
"concat": [
{
 "width": 336, "height": 223,
 "title": {"text": "(a)", "dx": -62, "dy": 21},
 "encoding": {
  "x": {"field": "x", "type": "quantitative", "scale": {"domain": [25, 125], "nice": false, "zero": false}, "axis": {"values": [40, 60, 80, 100, 120], "title": null}},
  "y": {"field": "y", "type": "quantitative", "scale": {"domain": [0, 1], "reverse": true, "nice": false, "zero": false}, "axis": {"values": [0, 0.2, 0.4, 0.6, 0.8, 1], "format": ".1f", "title": "νFc=1 mod 1"}}
 },
 "layer": [
  {"data": {"name": "aBand"}, "mark": {"type": "line", "strokeWidth": 7, "strokeCap": "round", "clip": true}, "encoding": {"detail": {"field": "g"}, "color": {"field": "s", "type": "nominal", "scale": {"domain": ["B", "R", "Y"], "range": ["#66CCEE", "#EE6677", "#CCBB44"]}, "legend": null}}},
  {"data": {"name": "aDots"}, "mark": {"type": "point", "filled": true, "size": 38, "opacity": 1, "clip": true}, "encoding": {"color": {"field": "s", "type": "nominal", "scale": {"domain": ["B", "R", "Y"], "range": ["#66CCEE", "#EE6677", "#CCBB44"]}, "legend": null}}},
  {"data": {"name": "aExp"}, "mark": {"type": "point", "filled": true, "size": 14, "opacity": 1, "color": "black", "clip": true}},
  {"data": {"name": "aTxt"}, "mark": {"type": "text", "align": "left", "baseline": "middle", "fontSize": 17, "font": "Liberation Serif"}, "encoding": {"text": {"field": "t"}}}
 ]
},
{
 "width": 334, "height": 223,
 "title": {"text": "(b)", "dx": -57, "dy": 21},
 "encoding": {
  "x": {"field": "x", "type": "quantitative", "scale": {"domain": [25, 125], "nice": false, "zero": false}, "axis": {"values": [40, 60, 80, 100, 120], "title": null}},
  "y": {"field": "y", "type": "quantitative", "scale": {"domain": [0, 1], "reverse": true, "nice": false, "zero": false}, "axis": {"values": [0, 0.2, 0.4, 0.6, 0.8, 1], "format": ".1f", "title": "νFc=1 mod 1"}}
 },
 "layer": [
  {"data": {"name": "bBand"}, "mark": {"type": "line", "strokeWidth": 7, "strokeCap": "round", "clip": true}, "encoding": {"detail": {"field": "g"}, "color": {"field": "s", "type": "nominal", "scale": {"domain": ["B", "R", "Y"], "range": ["#66CCEE", "#EE6677", "#CCBB44"]}, "legend": null}}},
  {"data": {"name": "bDots"}, "mark": {"type": "point", "filled": true, "size": 38, "opacity": 1, "clip": true}, "encoding": {"color": {"field": "s", "type": "nominal", "scale": {"domain": ["B", "R", "Y"], "range": ["#66CCEE", "#EE6677", "#CCBB44"]}, "legend": null}}},
  {"data": {"name": "bExp"}, "mark": {"type": "point", "filled": true, "size": 14, "opacity": 1, "color": "black", "clip": true}},
  {"data": {"name": "bTxt"}, "mark": {"type": "text", "align": "left", "baseline": "middle", "fontSize": 17, "font": "Liberation Serif"}, "encoding": {"text": {"field": "t"}}}
 ]
},
{
 "width": 336, "height": 113,
 "title": {"text": "(c)", "dx": -62, "dy": 1},
 "data": {"name": "cPts"},
 "mark": {"type": "point", "filled": true, "size": 35, "opacity": 1, "clip": true},
 "encoding": {
  "x": {"field": "x", "type": "quantitative", "scale": {"domain": [25, 125], "nice": false, "zero": false}, "axis": {"values": [40, 60, 80, 100, 120], "title": null}},
  "y": {"field": "y", "type": "quantitative", "scale": {"domain": [-15.5, 9.8], "nice": false, "zero": false}, "axis": {"values": [-10, 0], "format": "d", "title": ["(Eₑₓₚ − Eₜₕ)/h", "(MHz)"], "titleLineHeight": 19}},
  "color": {"field": "s", "type": "nominal", "scale": {"domain": ["B", "R", "Y"], "range": ["#66CCEE", "#EE6677", "#CCBB44"]}, "legend": null}
 }
},
{
 "width": 334, "height": 113,
 "title": {"text": "(d)", "dx": -57, "dy": 1},
 "data": {"name": "dPts"},
 "mark": {"type": "point", "filled": true, "size": 35, "opacity": 1, "clip": true},
 "encoding": {
  "x": {"field": "x", "type": "quantitative", "scale": {"domain": [25, 125], "nice": false, "zero": false}, "axis": {"values": [40, 60, 80, 100, 120], "title": null}},
  "y": {"field": "y", "type": "quantitative", "scale": {"domain": [-6.2, 16.3], "nice": false, "zero": false}, "axis": {"values": [0, 10], "format": "d", "title": ["(Eₑₓₚ − Eₜₕ)/h", "(MHz)"], "titleLineHeight": 19}},
  "color": {"field": "s", "type": "nominal", "scale": {"domain": ["B", "R", "Y"], "range": ["#66CCEE", "#EE6677", "#CCBB44"]}, "legend": null}
 }
},
{
 "width": 336, "height": 118,
 "title": {"text": "(e)", "dx": -61, "dy": 18},
 "encoding": {
  "x": {"field": "x", "type": "quantitative", "scale": {"domain": [25, 125], "nice": false, "zero": false}, "axis": {"values": [40, 60, 80, 100, 120], "title": "νFc=1", "titlePadding": 0}},
  "y": {"field": "y", "type": "quantitative", "scale": {"domain": [-0.05, 2.05], "nice": false, "zero": false}, "axis": {"values": [0, 0.5, 1, 1.5, 2], "format": ".1f", "title": "g factor"}}
 },
 "layer": [
  {"data": {"name": "eLn"}, "mark": {"type": "line", "color": "#808080", "strokeWidth": 1.4, "strokeDash": [6, 3.5], "clip": true}, "encoding": {"detail": {"field": "g"}}},
  {"data": {"name": "eTh"}, "mark": {"type": "point", "filled": false, "size": 28, "strokeWidth": 1.1, "opacity": 1, "clip": true}, "encoding": {"color": {"field": "s", "type": "nominal", "scale": {"domain": ["B", "R", "Y"], "range": ["#66CCEE", "#EE6677", "#CCBB44"]}, "legend": null}}},
  {"data": {"name": "eEx"}, "mark": {"type": "point", "filled": true, "size": 38, "opacity": 1, "clip": true}, "encoding": {"color": {"field": "s", "type": "nominal", "scale": {"domain": ["B", "R", "Y"], "range": ["#66CCEE", "#EE6677", "#CCBB44"]}, "legend": null}}},
  {"data": {"name": "eTx"}, "mark": {"type": "text", "align": "left", "baseline": "middle", "fontSize": 12, "font": "Liberation Serif"}, "encoding": {"text": {"field": "t"}}}
 ]
},
{
 "width": 334, "height": 118,
 "title": {"text": "(f)", "dx": -57, "dy": 18},
 "encoding": {
  "x": {"field": "x", "type": "quantitative", "scale": {"domain": [25, 125], "nice": false, "zero": false}, "axis": {"values": [40, 60, 80, 100, 120], "title": "νFc=1", "titlePadding": 0}},
  "y": {"field": "y", "type": "quantitative", "scale": {"domain": [-0.05, 2.05], "nice": false, "zero": false}, "axis": {"values": [0, 0.5, 1, 1.5, 2], "format": ".1f", "title": "g factor"}}
 },
 "layer": [
  {"data": {"name": "fLn"}, "mark": {"type": "line", "color": "#808080", "strokeWidth": 1.4, "strokeDash": [6, 3.5], "clip": true}, "encoding": {"detail": {"field": "g"}}},
  {"data": {"name": "fTh"}, "mark": {"type": "point", "filled": false, "size": 28, "strokeWidth": 1.1, "opacity": 1, "clip": true}, "encoding": {"color": {"field": "s", "type": "nominal", "scale": {"domain": ["B", "R", "Y"], "range": ["#66CCEE", "#EE6677", "#CCBB44"]}, "legend": null}}},
  {"data": {"name": "fEx"}, "mark": {"type": "point", "filled": true, "size": 38, "opacity": 1, "clip": true}, "encoding": {"color": {"field": "s", "type": "nominal", "scale": {"domain": ["B", "R", "Y"], "range": ["#66CCEE", "#EE6677", "#CCBB44"]}, "legend": null}}},
  {"data": {"name": "fTx"}, "mark": {"type": "text", "align": "left", "baseline": "middle", "fontSize": 12, "font": "Liberation Serif"}, "encoding": {"text": {"field": "t"}}}
 ]
}
]
}
